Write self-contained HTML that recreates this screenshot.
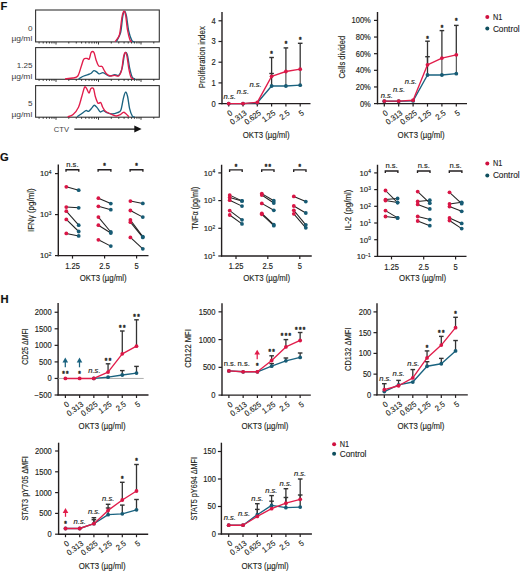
<!DOCTYPE html>
<html><head><meta charset="utf-8"><style>
html,body{margin:0;padding:0;background:#fff;}
svg{display:block;font-family:"Liberation Sans", sans-serif;}
text{stroke:#231f20;stroke-width:0.15px;paint-order:stroke;}
</style></head><body>
<svg width="520" height="571" viewBox="0 0 520 571">
<rect x="0" y="0" width="520" height="571" fill="#fff"/>
<text x="0.60" y="9.90" font-size="11.2" text-anchor="start" fill="#111" font-weight="bold" font-style="normal" >F</text>
<text x="0.00" y="160.60" font-size="11.2" text-anchor="start" fill="#111" font-weight="bold" font-style="normal" >G</text>
<text x="0.60" y="303.20" font-size="11.2" text-anchor="start" fill="#111" font-weight="bold" font-style="normal" >H</text>
<rect x="35.6" y="10.0" width="123.70000000000002" height="31.9" fill="none" stroke="#333" stroke-width="1.1"/>
<line x1="39.09" y1="41.90" x2="39.09" y2="43.50" stroke="#222" stroke-width="0.9" />
<line x1="43.21" y1="41.90" x2="43.21" y2="43.50" stroke="#222" stroke-width="0.9" />
<line x1="46.57" y1="41.90" x2="46.57" y2="43.50" stroke="#222" stroke-width="0.9" />
<line x1="49.42" y1="41.90" x2="49.42" y2="43.50" stroke="#222" stroke-width="0.9" />
<line x1="51.88" y1="41.90" x2="51.88" y2="43.50" stroke="#222" stroke-width="0.9" />
<line x1="54.06" y1="41.90" x2="54.06" y2="43.50" stroke="#222" stroke-width="0.9" />
<line x1="56.00" y1="41.90" x2="56.00" y2="44.50" stroke="#222" stroke-width="0.9" />
<line x1="68.79" y1="41.90" x2="68.79" y2="43.50" stroke="#222" stroke-width="0.9" />
<line x1="76.28" y1="41.90" x2="76.28" y2="43.50" stroke="#222" stroke-width="0.9" />
<line x1="81.59" y1="41.90" x2="81.59" y2="43.50" stroke="#222" stroke-width="0.9" />
<line x1="85.71" y1="41.90" x2="85.71" y2="43.50" stroke="#222" stroke-width="0.9" />
<line x1="89.07" y1="41.90" x2="89.07" y2="43.50" stroke="#222" stroke-width="0.9" />
<line x1="91.92" y1="41.90" x2="91.92" y2="43.50" stroke="#222" stroke-width="0.9" />
<line x1="94.38" y1="41.90" x2="94.38" y2="43.50" stroke="#222" stroke-width="0.9" />
<line x1="96.56" y1="41.90" x2="96.56" y2="43.50" stroke="#222" stroke-width="0.9" />
<line x1="98.50" y1="41.90" x2="98.50" y2="44.50" stroke="#222" stroke-width="0.9" />
<line x1="111.29" y1="41.90" x2="111.29" y2="43.50" stroke="#222" stroke-width="0.9" />
<line x1="118.78" y1="41.90" x2="118.78" y2="43.50" stroke="#222" stroke-width="0.9" />
<line x1="124.09" y1="41.90" x2="124.09" y2="43.50" stroke="#222" stroke-width="0.9" />
<line x1="128.21" y1="41.90" x2="128.21" y2="43.50" stroke="#222" stroke-width="0.9" />
<line x1="131.57" y1="41.90" x2="131.57" y2="43.50" stroke="#222" stroke-width="0.9" />
<line x1="134.42" y1="41.90" x2="134.42" y2="43.50" stroke="#222" stroke-width="0.9" />
<line x1="136.88" y1="41.90" x2="136.88" y2="43.50" stroke="#222" stroke-width="0.9" />
<line x1="139.06" y1="41.90" x2="139.06" y2="43.50" stroke="#222" stroke-width="0.9" />
<line x1="141.00" y1="41.90" x2="141.00" y2="44.50" stroke="#222" stroke-width="0.9" />
<line x1="153.79" y1="41.90" x2="153.79" y2="43.50" stroke="#222" stroke-width="0.9" />
<rect x="35.6" y="47.6" width="123.70000000000002" height="31.699999999999996" fill="none" stroke="#333" stroke-width="1.1"/>
<line x1="39.09" y1="79.30" x2="39.09" y2="80.90" stroke="#222" stroke-width="0.9" />
<line x1="43.21" y1="79.30" x2="43.21" y2="80.90" stroke="#222" stroke-width="0.9" />
<line x1="46.57" y1="79.30" x2="46.57" y2="80.90" stroke="#222" stroke-width="0.9" />
<line x1="49.42" y1="79.30" x2="49.42" y2="80.90" stroke="#222" stroke-width="0.9" />
<line x1="51.88" y1="79.30" x2="51.88" y2="80.90" stroke="#222" stroke-width="0.9" />
<line x1="54.06" y1="79.30" x2="54.06" y2="80.90" stroke="#222" stroke-width="0.9" />
<line x1="56.00" y1="79.30" x2="56.00" y2="81.90" stroke="#222" stroke-width="0.9" />
<line x1="68.79" y1="79.30" x2="68.79" y2="80.90" stroke="#222" stroke-width="0.9" />
<line x1="76.28" y1="79.30" x2="76.28" y2="80.90" stroke="#222" stroke-width="0.9" />
<line x1="81.59" y1="79.30" x2="81.59" y2="80.90" stroke="#222" stroke-width="0.9" />
<line x1="85.71" y1="79.30" x2="85.71" y2="80.90" stroke="#222" stroke-width="0.9" />
<line x1="89.07" y1="79.30" x2="89.07" y2="80.90" stroke="#222" stroke-width="0.9" />
<line x1="91.92" y1="79.30" x2="91.92" y2="80.90" stroke="#222" stroke-width="0.9" />
<line x1="94.38" y1="79.30" x2="94.38" y2="80.90" stroke="#222" stroke-width="0.9" />
<line x1="96.56" y1="79.30" x2="96.56" y2="80.90" stroke="#222" stroke-width="0.9" />
<line x1="98.50" y1="79.30" x2="98.50" y2="81.90" stroke="#222" stroke-width="0.9" />
<line x1="111.29" y1="79.30" x2="111.29" y2="80.90" stroke="#222" stroke-width="0.9" />
<line x1="118.78" y1="79.30" x2="118.78" y2="80.90" stroke="#222" stroke-width="0.9" />
<line x1="124.09" y1="79.30" x2="124.09" y2="80.90" stroke="#222" stroke-width="0.9" />
<line x1="128.21" y1="79.30" x2="128.21" y2="80.90" stroke="#222" stroke-width="0.9" />
<line x1="131.57" y1="79.30" x2="131.57" y2="80.90" stroke="#222" stroke-width="0.9" />
<line x1="134.42" y1="79.30" x2="134.42" y2="80.90" stroke="#222" stroke-width="0.9" />
<line x1="136.88" y1="79.30" x2="136.88" y2="80.90" stroke="#222" stroke-width="0.9" />
<line x1="139.06" y1="79.30" x2="139.06" y2="80.90" stroke="#222" stroke-width="0.9" />
<line x1="141.00" y1="79.30" x2="141.00" y2="81.90" stroke="#222" stroke-width="0.9" />
<line x1="153.79" y1="79.30" x2="153.79" y2="80.90" stroke="#222" stroke-width="0.9" />
<rect x="35.6" y="85.6" width="123.70000000000002" height="31.60000000000001" fill="none" stroke="#333" stroke-width="1.1"/>
<line x1="39.09" y1="117.20" x2="39.09" y2="118.80" stroke="#222" stroke-width="0.9" />
<line x1="43.21" y1="117.20" x2="43.21" y2="118.80" stroke="#222" stroke-width="0.9" />
<line x1="46.57" y1="117.20" x2="46.57" y2="118.80" stroke="#222" stroke-width="0.9" />
<line x1="49.42" y1="117.20" x2="49.42" y2="118.80" stroke="#222" stroke-width="0.9" />
<line x1="51.88" y1="117.20" x2="51.88" y2="118.80" stroke="#222" stroke-width="0.9" />
<line x1="54.06" y1="117.20" x2="54.06" y2="118.80" stroke="#222" stroke-width="0.9" />
<line x1="56.00" y1="117.20" x2="56.00" y2="119.80" stroke="#222" stroke-width="0.9" />
<line x1="68.79" y1="117.20" x2="68.79" y2="118.80" stroke="#222" stroke-width="0.9" />
<line x1="76.28" y1="117.20" x2="76.28" y2="118.80" stroke="#222" stroke-width="0.9" />
<line x1="81.59" y1="117.20" x2="81.59" y2="118.80" stroke="#222" stroke-width="0.9" />
<line x1="85.71" y1="117.20" x2="85.71" y2="118.80" stroke="#222" stroke-width="0.9" />
<line x1="89.07" y1="117.20" x2="89.07" y2="118.80" stroke="#222" stroke-width="0.9" />
<line x1="91.92" y1="117.20" x2="91.92" y2="118.80" stroke="#222" stroke-width="0.9" />
<line x1="94.38" y1="117.20" x2="94.38" y2="118.80" stroke="#222" stroke-width="0.9" />
<line x1="96.56" y1="117.20" x2="96.56" y2="118.80" stroke="#222" stroke-width="0.9" />
<line x1="98.50" y1="117.20" x2="98.50" y2="119.80" stroke="#222" stroke-width="0.9" />
<line x1="111.29" y1="117.20" x2="111.29" y2="118.80" stroke="#222" stroke-width="0.9" />
<line x1="118.78" y1="117.20" x2="118.78" y2="118.80" stroke="#222" stroke-width="0.9" />
<line x1="124.09" y1="117.20" x2="124.09" y2="118.80" stroke="#222" stroke-width="0.9" />
<line x1="128.21" y1="117.20" x2="128.21" y2="118.80" stroke="#222" stroke-width="0.9" />
<line x1="131.57" y1="117.20" x2="131.57" y2="118.80" stroke="#222" stroke-width="0.9" />
<line x1="134.42" y1="117.20" x2="134.42" y2="118.80" stroke="#222" stroke-width="0.9" />
<line x1="136.88" y1="117.20" x2="136.88" y2="118.80" stroke="#222" stroke-width="0.9" />
<line x1="139.06" y1="117.20" x2="139.06" y2="118.80" stroke="#222" stroke-width="0.9" />
<line x1="141.00" y1="117.20" x2="141.00" y2="119.80" stroke="#222" stroke-width="0.9" />
<line x1="153.79" y1="117.20" x2="153.79" y2="118.80" stroke="#222" stroke-width="0.9" />
<path d="M116.30,41.60 C117.02,40.08 119.52,36.73 120.60,32.50 C121.67,28.27 122.06,19.78 122.75,16.25 C123.44,12.72 124.12,11.30 124.75,11.30 C125.38,11.30 125.83,12.93 126.50,16.25 C127.17,19.57 127.85,27.19 128.75,31.25 C129.65,35.31 130.96,38.88 131.90,40.60 C132.84,42.33 133.98,41.43 134.40,41.60" fill="none" stroke="#1a6380" stroke-width="1.35" stroke-linejoin="round"/>
<path d="M115.00,41.60 C115.73,40.50 118.25,39.02 119.40,35.00 C120.55,30.98 121.18,21.45 121.90,17.50 C122.62,13.55 123.13,11.72 123.75,11.30 C124.37,10.88 124.97,11.88 125.60,15.00 C126.22,18.12 126.77,25.83 127.50,30.00 C128.23,34.17 129.27,38.07 130.00,40.00 C130.73,41.93 131.58,41.33 131.90,41.60" fill="none" stroke="#e11d4b" stroke-width="1.35" stroke-linejoin="round"/>
<path d="M78.50,78.90 C79.38,78.42 82.23,76.72 83.80,76.00 C85.37,75.28 86.67,75.05 87.90,74.60 C89.13,74.15 90.20,73.97 91.20,73.30 C92.20,72.63 93.00,70.83 93.90,70.60 C94.80,70.37 95.70,71.35 96.60,71.90 C97.50,72.45 98.28,73.78 99.30,73.90 C100.32,74.02 101.68,72.60 102.70,72.60 C103.72,72.60 104.28,73.33 105.40,73.90 C106.52,74.47 107.83,75.88 109.40,76.00 C110.97,76.12 113.23,74.72 114.80,74.60 C116.37,74.48 117.57,76.42 118.80,75.30 C120.03,74.18 121.30,71.15 122.20,67.90 C123.10,64.65 123.60,58.38 124.20,55.80 C124.80,53.22 125.23,52.40 125.80,52.40 C126.37,52.40 126.97,53.22 127.60,55.80 C128.23,58.38 128.82,64.32 129.60,67.90 C130.38,71.48 131.40,75.47 132.30,77.30 C133.20,79.13 134.55,78.63 135.00,78.90" fill="none" stroke="#1a6380" stroke-width="1.35" stroke-linejoin="round"/>
<path d="M65.00,78.90 C66.33,78.75 70.87,78.48 73.00,78.00 C75.13,77.52 76.43,77.92 77.80,76.00 C79.17,74.08 80.20,69.32 81.20,66.50 C82.20,63.68 82.80,60.43 83.80,59.10 C84.80,57.77 86.30,58.50 87.20,58.50 C88.10,58.50 88.53,60.12 89.20,59.10 C89.87,58.08 90.42,53.52 91.20,52.40 C91.98,51.28 93.10,51.17 93.90,52.40 C94.70,53.63 95.22,57.55 96.00,59.80 C96.78,62.05 97.60,64.78 98.60,65.90 C99.60,67.02 101.10,65.82 102.00,66.50 C102.90,67.18 103.22,68.75 104.00,70.00 C104.78,71.25 105.57,73.00 106.70,74.00 C107.83,75.00 109.45,75.78 110.80,76.00 C112.15,76.22 113.47,75.30 114.80,75.30 C116.13,75.30 117.68,76.78 118.80,76.00 C119.92,75.22 120.72,73.75 121.50,70.60 C122.28,67.45 122.87,60.13 123.50,57.10 C124.13,54.07 124.73,52.62 125.30,52.40 C125.87,52.18 126.30,53.00 126.90,55.80 C127.50,58.60 128.22,65.62 128.90,69.20 C129.58,72.78 130.22,75.68 131.00,77.30 C131.78,78.92 133.17,78.63 133.60,78.90" fill="none" stroke="#e11d4b" stroke-width="1.35" stroke-linejoin="round"/>
<path d="M77.10,116.80 C77.78,116.33 79.73,115.03 81.20,114.00 C82.67,112.97 84.67,111.05 85.90,110.60 C87.13,110.15 87.60,111.75 88.60,111.30 C89.60,110.85 90.95,108.92 91.90,107.90 C92.85,106.88 93.40,105.20 94.30,105.20 C95.20,105.20 96.30,106.78 97.30,107.90 C98.30,109.02 99.28,111.45 100.30,111.90 C101.32,112.35 102.33,110.48 103.40,110.60 C104.47,110.72 105.25,112.03 106.70,112.60 C108.15,113.17 110.30,114.00 112.10,114.00 C113.90,114.00 116.03,113.27 117.50,112.60 C118.97,111.93 119.90,112.47 120.90,110.00 C121.90,107.53 122.72,100.77 123.50,97.80 C124.28,94.83 124.92,92.42 125.60,92.20 C126.28,91.98 126.93,93.77 127.60,96.50 C128.27,99.23 128.82,105.35 129.60,108.60 C130.38,111.85 131.48,114.63 132.30,116.00 C133.12,117.37 134.13,116.67 134.50,116.80" fill="none" stroke="#1a6380" stroke-width="1.35" stroke-linejoin="round"/>
<path d="M67.70,116.80 C68.60,116.43 71.30,116.20 73.10,114.60 C74.90,113.00 77.05,110.22 78.50,107.20 C79.95,104.18 80.80,99.82 81.80,96.50 C82.80,93.18 83.72,88.65 84.50,87.30 C85.28,85.95 85.75,87.43 86.50,88.40 C87.25,89.37 88.28,93.05 89.00,93.10 C89.72,93.15 90.05,89.43 90.80,88.70 C91.55,87.97 92.75,87.40 93.50,88.70 C94.25,90.00 94.55,94.08 95.30,96.50 C96.05,98.92 97.10,102.20 98.00,103.20 C98.90,104.20 99.92,101.83 100.70,102.50 C101.48,103.17 101.92,105.73 102.70,107.20 C103.48,108.67 104.05,110.17 105.40,111.30 C106.75,112.43 109.02,113.22 110.80,114.00 C112.58,114.78 114.53,115.90 116.10,116.00 C117.67,116.10 118.97,115.22 120.20,114.60 C121.43,113.98 122.50,112.40 123.50,112.30 C124.50,112.20 125.30,113.25 126.20,114.00 C127.10,114.75 128.45,116.33 128.90,116.80" fill="none" stroke="#e11d4b" stroke-width="1.35" stroke-linejoin="round"/>
<text x="32.60" y="30.60" font-size="8.1" text-anchor="end" fill="#3a3a3a" font-weight="normal" font-style="normal" style="stroke:none">0</text>
<text x="32.30" y="41.30" font-size="7.9" text-anchor="end" fill="#3a3a3a" font-weight="normal" font-style="normal" textLength="20.9" lengthAdjust="spacingAndGlyphs" style="stroke:none">µg/ml</text>
<text x="32.60" y="68.00" font-size="8.1" text-anchor="end" fill="#3a3a3a" font-weight="normal" font-style="normal" style="stroke:none">1.25</text>
<text x="32.30" y="78.70" font-size="7.9" text-anchor="end" fill="#3a3a3a" font-weight="normal" font-style="normal" textLength="20.9" lengthAdjust="spacingAndGlyphs" style="stroke:none">µg/ml</text>
<text x="32.60" y="105.90" font-size="8.1" text-anchor="end" fill="#3a3a3a" font-weight="normal" font-style="normal" style="stroke:none">5</text>
<text x="32.30" y="116.60" font-size="7.9" text-anchor="end" fill="#3a3a3a" font-weight="normal" font-style="normal" textLength="20.9" lengthAdjust="spacingAndGlyphs" style="stroke:none">µg/ml</text>
<text x="53.80" y="132.00" font-size="7.9" text-anchor="start" fill="#444" font-weight="normal" font-style="normal" textLength="15.2" lengthAdjust="spacingAndGlyphs" style="stroke:none">CTV</text>
<line x1="74.30" y1="129.10" x2="135.50" y2="129.10" stroke="#111" stroke-width="1.1" />
<path d="M134.3,125.6 L141.6,129.1 L134.3,132.6 Z" fill="#111"/>
<line x1="222.00" y1="12.00" x2="222.00" y2="104.20" stroke="#231f20" stroke-width="1.4" />
<line x1="221.40" y1="103.60" x2="310.50" y2="103.60" stroke="#231f20" stroke-width="1.4" />
<line x1="218.50" y1="103.60" x2="222.00" y2="103.60" stroke="#231f20" stroke-width="1.2" />
<text x="215.60" y="106.50" font-size="8.2" text-anchor="end" fill="#231f20" font-weight="normal" font-style="normal" textLength="4.2" lengthAdjust="spacingAndGlyphs" >0</text>
<line x1="218.50" y1="82.90" x2="222.00" y2="82.90" stroke="#231f20" stroke-width="1.2" />
<text x="215.60" y="85.80" font-size="8.2" text-anchor="end" fill="#231f20" font-weight="normal" font-style="normal" textLength="4.2" lengthAdjust="spacingAndGlyphs" >1</text>
<line x1="218.50" y1="62.20" x2="222.00" y2="62.20" stroke="#231f20" stroke-width="1.2" />
<text x="215.60" y="65.10" font-size="8.2" text-anchor="end" fill="#231f20" font-weight="normal" font-style="normal" textLength="4.2" lengthAdjust="spacingAndGlyphs" >2</text>
<line x1="218.50" y1="41.50" x2="222.00" y2="41.50" stroke="#231f20" stroke-width="1.2" />
<text x="215.60" y="44.40" font-size="8.2" text-anchor="end" fill="#231f20" font-weight="normal" font-style="normal" textLength="4.2" lengthAdjust="spacingAndGlyphs" >3</text>
<line x1="218.50" y1="20.80" x2="222.00" y2="20.80" stroke="#231f20" stroke-width="1.2" />
<text x="215.60" y="23.70" font-size="8.2" text-anchor="end" fill="#231f20" font-weight="normal" font-style="normal" textLength="4.2" lengthAdjust="spacingAndGlyphs" >4</text>
<line x1="228.70" y1="103.60" x2="228.70" y2="106.60" stroke="#231f20" stroke-width="1.2" />
<line x1="243.00" y1="103.60" x2="243.00" y2="106.60" stroke="#231f20" stroke-width="1.2" />
<line x1="257.30" y1="103.60" x2="257.30" y2="106.60" stroke="#231f20" stroke-width="1.2" />
<line x1="271.60" y1="103.60" x2="271.60" y2="106.60" stroke="#231f20" stroke-width="1.2" />
<line x1="285.90" y1="103.60" x2="285.90" y2="106.60" stroke="#231f20" stroke-width="1.2" />
<line x1="300.20" y1="103.60" x2="300.20" y2="106.60" stroke="#231f20" stroke-width="1.2" />
<line x1="271.60" y1="86.00" x2="271.60" y2="73.50" stroke="#333333" stroke-width="1.3" />
<line x1="269.30" y1="73.50" x2="273.90" y2="73.50" stroke="#333333" stroke-width="1.4" />
<line x1="271.60" y1="76.30" x2="271.60" y2="57.50" stroke="#333333" stroke-width="1.3" />
<line x1="269.30" y1="57.50" x2="273.90" y2="57.50" stroke="#333333" stroke-width="1.4" />
<line x1="285.90" y1="71.50" x2="285.90" y2="47.90" stroke="#333333" stroke-width="1.3" />
<line x1="283.60" y1="47.90" x2="288.20" y2="47.90" stroke="#333333" stroke-width="1.4" />
<line x1="300.20" y1="69.20" x2="300.20" y2="43.30" stroke="#333333" stroke-width="1.3" />
<line x1="297.90" y1="43.30" x2="302.50" y2="43.30" stroke="#333333" stroke-width="1.4" />
<line x1="285.90" y1="86.00" x2="285.90" y2="71.50" stroke="#333333" stroke-width="1" />
<line x1="300.20" y1="85.20" x2="300.20" y2="69.20" stroke="#333333" stroke-width="1" />
<polyline points="228.70,103.60 243.00,103.60 257.30,102.80 271.60,86.00 285.90,86.00 300.20,85.20" fill="none" stroke="#1a6380" stroke-width="1.35" stroke-linejoin="round" stroke-linecap="round"/>
<circle cx="228.70" cy="103.60" r="1.9" fill="#175b74"/>
<circle cx="243.00" cy="103.60" r="1.9" fill="#175b74"/>
<circle cx="257.30" cy="102.80" r="1.9" fill="#175b74"/>
<circle cx="271.60" cy="86.00" r="1.9" fill="#175b74"/>
<circle cx="285.90" cy="86.00" r="1.9" fill="#175b74"/>
<circle cx="300.20" cy="85.20" r="1.9" fill="#175b74"/>
<polyline points="228.70,103.60 243.00,103.60 257.30,102.30 271.60,76.30 285.90,71.50 300.20,69.20" fill="none" stroke="#e11d4b" stroke-width="1.35" stroke-linejoin="round" stroke-linecap="round"/>
<circle cx="228.70" cy="103.60" r="1.9" fill="#d91646"/>
<circle cx="243.00" cy="103.60" r="1.9" fill="#d91646"/>
<circle cx="257.30" cy="102.30" r="1.9" fill="#d91646"/>
<circle cx="271.60" cy="76.30" r="1.9" fill="#d91646"/>
<circle cx="285.90" cy="71.50" r="1.9" fill="#d91646"/>
<circle cx="300.20" cy="69.20" r="1.9" fill="#d91646"/>
<text x="229.70" y="98.70" font-size="7.6" text-anchor="middle" fill="#231f20" font-weight="normal" font-style="italic" >n.s.</text>
<text x="242.90" y="94.40" font-size="7.6" text-anchor="middle" fill="#231f20" font-weight="normal" font-style="italic" >n.s.</text>
<text x="255.50" y="87.20" font-size="7.6" text-anchor="middle" fill="#231f20" font-weight="normal" font-style="italic" >n.s.</text>
<text x="271.60" y="55.96" font-size="6.4" text-anchor="middle" fill="#231f20" font-weight="bold" style="stroke-width:0.35px">*</text>
<text x="285.90" y="45.96" font-size="6.4" text-anchor="middle" fill="#231f20" font-weight="bold" style="stroke-width:0.35px">*</text>
<text x="300.20" y="42.46" font-size="6.4" text-anchor="middle" fill="#231f20" font-weight="bold" style="stroke-width:0.35px">*</text>
<text transform="translate(233.00,114.00) rotate(-37)" font-size="7.9" text-anchor="end" fill="#231f20" textLength="4.09" lengthAdjust="spacingAndGlyphs">0</text>
<text transform="translate(247.30,114.00) rotate(-37)" font-size="7.9" text-anchor="end" fill="#231f20" textLength="18.38" lengthAdjust="spacingAndGlyphs">0.313</text>
<text transform="translate(261.60,114.00) rotate(-37)" font-size="7.9" text-anchor="end" fill="#231f20" textLength="18.38" lengthAdjust="spacingAndGlyphs">0.625</text>
<text transform="translate(275.90,114.00) rotate(-37)" font-size="7.9" text-anchor="end" fill="#231f20" textLength="14.30" lengthAdjust="spacingAndGlyphs">1.25</text>
<text transform="translate(290.20,114.00) rotate(-37)" font-size="7.9" text-anchor="end" fill="#231f20" textLength="10.21" lengthAdjust="spacingAndGlyphs">2.5</text>
<text transform="translate(304.50,114.00) rotate(-37)" font-size="7.9" text-anchor="end" fill="#231f20" textLength="4.09" lengthAdjust="spacingAndGlyphs">5</text>
<text x="266.20" y="137.80" font-size="9.4" text-anchor="middle" fill="#231f20" font-weight="normal" font-style="normal" textLength="47" lengthAdjust="spacingAndGlyphs" >OKT3 (µg/ml)</text>
<text transform="translate(204.60,57.25) rotate(-90)" x="0" y="0" font-size="9.6" text-anchor="middle" fill="#231f20" textLength="62.1" lengthAdjust="spacingAndGlyphs">Proliferation index</text>
<line x1="377.50" y1="12.00" x2="377.50" y2="104.20" stroke="#231f20" stroke-width="1.4" />
<line x1="376.90" y1="103.60" x2="467.00" y2="103.60" stroke="#231f20" stroke-width="1.4" />
<line x1="374.00" y1="103.60" x2="377.50" y2="103.60" stroke="#231f20" stroke-width="1.2" />
<text x="370.80" y="106.50" font-size="8.2" text-anchor="end" fill="#231f20" font-weight="normal" font-style="normal" textLength="10.9" lengthAdjust="spacingAndGlyphs" >0%</text>
<line x1="374.00" y1="86.96" x2="377.50" y2="86.96" stroke="#231f20" stroke-width="1.2" />
<text x="370.80" y="89.86" font-size="8.2" text-anchor="end" fill="#231f20" font-weight="normal" font-style="normal" textLength="15.1" lengthAdjust="spacingAndGlyphs" >20%</text>
<line x1="374.00" y1="70.32" x2="377.50" y2="70.32" stroke="#231f20" stroke-width="1.2" />
<text x="370.80" y="73.22" font-size="8.2" text-anchor="end" fill="#231f20" font-weight="normal" font-style="normal" textLength="15.1" lengthAdjust="spacingAndGlyphs" >40%</text>
<line x1="374.00" y1="53.68" x2="377.50" y2="53.68" stroke="#231f20" stroke-width="1.2" />
<text x="370.80" y="56.58" font-size="8.2" text-anchor="end" fill="#231f20" font-weight="normal" font-style="normal" textLength="15.1" lengthAdjust="spacingAndGlyphs" >60%</text>
<line x1="374.00" y1="37.04" x2="377.50" y2="37.04" stroke="#231f20" stroke-width="1.2" />
<text x="370.80" y="39.94" font-size="8.2" text-anchor="end" fill="#231f20" font-weight="normal" font-style="normal" textLength="15.1" lengthAdjust="spacingAndGlyphs" >80%</text>
<line x1="374.00" y1="20.40" x2="377.50" y2="20.40" stroke="#231f20" stroke-width="1.2" />
<text x="370.80" y="23.30" font-size="8.2" text-anchor="end" fill="#231f20" font-weight="normal" font-style="normal" textLength="19.29" lengthAdjust="spacingAndGlyphs" >100%</text>
<line x1="384.30" y1="103.60" x2="384.30" y2="106.60" stroke="#231f20" stroke-width="1.2" />
<line x1="398.70" y1="103.60" x2="398.70" y2="106.60" stroke="#231f20" stroke-width="1.2" />
<line x1="413.10" y1="103.60" x2="413.10" y2="106.60" stroke="#231f20" stroke-width="1.2" />
<line x1="427.50" y1="103.60" x2="427.50" y2="106.60" stroke="#231f20" stroke-width="1.2" />
<line x1="441.90" y1="103.60" x2="441.90" y2="106.60" stroke="#231f20" stroke-width="1.2" />
<line x1="456.30" y1="103.60" x2="456.30" y2="106.60" stroke="#231f20" stroke-width="1.2" />
<line x1="427.50" y1="74.98" x2="427.50" y2="56.70" stroke="#333333" stroke-width="1.3" />
<line x1="425.20" y1="56.70" x2="429.80" y2="56.70" stroke="#333333" stroke-width="1.4" />
<line x1="427.50" y1="64.83" x2="427.50" y2="41.20" stroke="#333333" stroke-width="1.3" />
<line x1="425.20" y1="41.20" x2="429.80" y2="41.20" stroke="#333333" stroke-width="1.4" />
<line x1="441.90" y1="58.09" x2="441.90" y2="30.60" stroke="#333333" stroke-width="1.3" />
<line x1="439.60" y1="30.60" x2="444.20" y2="30.60" stroke="#333333" stroke-width="1.4" />
<line x1="456.30" y1="54.84" x2="456.30" y2="25.40" stroke="#333333" stroke-width="1.3" />
<line x1="454.00" y1="25.40" x2="458.60" y2="25.40" stroke="#333333" stroke-width="1.4" />
<line x1="441.90" y1="74.98" x2="441.90" y2="58.09" stroke="#333333" stroke-width="1" />
<line x1="456.30" y1="73.65" x2="456.30" y2="54.84" stroke="#333333" stroke-width="1" />
<polyline points="384.30,101.27 398.70,101.27 413.10,100.94 427.50,74.98 441.90,74.98 456.30,73.65" fill="none" stroke="#1a6380" stroke-width="1.35" stroke-linejoin="round" stroke-linecap="round"/>
<circle cx="384.30" cy="101.27" r="1.9" fill="#175b74"/>
<circle cx="398.70" cy="101.27" r="1.9" fill="#175b74"/>
<circle cx="413.10" cy="100.94" r="1.9" fill="#175b74"/>
<circle cx="427.50" cy="74.98" r="1.9" fill="#175b74"/>
<circle cx="441.90" cy="74.98" r="1.9" fill="#175b74"/>
<circle cx="456.30" cy="73.65" r="1.9" fill="#175b74"/>
<polyline points="384.30,101.10 398.70,101.10 413.10,100.27 427.50,64.83 441.90,58.09 456.30,54.84" fill="none" stroke="#e11d4b" stroke-width="1.35" stroke-linejoin="round" stroke-linecap="round"/>
<circle cx="384.30" cy="101.10" r="1.9" fill="#d91646"/>
<circle cx="398.70" cy="101.10" r="1.9" fill="#d91646"/>
<circle cx="413.10" cy="100.27" r="1.9" fill="#d91646"/>
<circle cx="427.50" cy="64.83" r="1.9" fill="#d91646"/>
<circle cx="441.90" cy="58.09" r="1.9" fill="#d91646"/>
<circle cx="456.30" cy="54.84" r="1.9" fill="#d91646"/>
<text x="386.80" y="97.60" font-size="7.6" text-anchor="middle" fill="#231f20" font-weight="normal" font-style="italic" >n.s.</text>
<text x="399.00" y="91.80" font-size="7.6" text-anchor="middle" fill="#231f20" font-weight="normal" font-style="italic" >n.s.</text>
<text x="410.80" y="84.20" font-size="7.6" text-anchor="middle" fill="#231f20" font-weight="normal" font-style="italic" >n.s.</text>
<text x="427.50" y="41.16" font-size="6.4" text-anchor="middle" fill="#231f20" font-weight="bold" style="stroke-width:0.35px">*</text>
<text x="441.90" y="29.56" font-size="6.4" text-anchor="middle" fill="#231f20" font-weight="bold" style="stroke-width:0.35px">*</text>
<text x="456.30" y="23.26" font-size="6.4" text-anchor="middle" fill="#231f20" font-weight="bold" style="stroke-width:0.35px">*</text>
<text transform="translate(388.60,114.00) rotate(-37)" font-size="7.9" text-anchor="end" fill="#231f20" textLength="4.09" lengthAdjust="spacingAndGlyphs">0</text>
<text transform="translate(403.00,114.00) rotate(-37)" font-size="7.9" text-anchor="end" fill="#231f20" textLength="18.38" lengthAdjust="spacingAndGlyphs">0.313</text>
<text transform="translate(417.40,114.00) rotate(-37)" font-size="7.9" text-anchor="end" fill="#231f20" textLength="18.38" lengthAdjust="spacingAndGlyphs">0.625</text>
<text transform="translate(431.80,114.00) rotate(-37)" font-size="7.9" text-anchor="end" fill="#231f20" textLength="14.30" lengthAdjust="spacingAndGlyphs">1.25</text>
<text transform="translate(446.20,114.00) rotate(-37)" font-size="7.9" text-anchor="end" fill="#231f20" textLength="10.21" lengthAdjust="spacingAndGlyphs">2.5</text>
<text transform="translate(460.60,114.00) rotate(-37)" font-size="7.9" text-anchor="end" fill="#231f20" textLength="4.09" lengthAdjust="spacingAndGlyphs">5</text>
<text x="421.10" y="137.80" font-size="9.4" text-anchor="middle" fill="#231f20" font-weight="normal" font-style="normal" textLength="47" lengthAdjust="spacingAndGlyphs" >OKT3 (µg/ml)</text>
<text transform="translate(344.60,57.20) rotate(-90)" x="0" y="0" font-size="9.6" text-anchor="middle" fill="#231f20" textLength="42.8" lengthAdjust="spacingAndGlyphs">Cells divided</text>
<circle cx="487.30" cy="17.00" r="2.0" fill="#d0103f"/>
<circle cx="487.30" cy="28.60" r="2.0" fill="#0f4f5e"/>
<text x="492.90" y="19.90" font-size="8.6" text-anchor="start" fill="#222" font-weight="normal" font-style="normal" textLength="9.4" lengthAdjust="spacingAndGlyphs" style="stroke-width:0.12px">N1</text>
<text x="492.90" y="31.50" font-size="8.6" text-anchor="start" fill="#222" font-weight="normal" font-style="normal" textLength="26.7" lengthAdjust="spacingAndGlyphs" style="stroke-width:0.12px">Control</text>
<circle cx="487.30" cy="163.50" r="2.0" fill="#d0103f"/>
<circle cx="487.30" cy="175.50" r="2.0" fill="#0f4f5e"/>
<text x="492.90" y="166.40" font-size="8.6" text-anchor="start" fill="#222" font-weight="normal" font-style="normal" textLength="9.4" lengthAdjust="spacingAndGlyphs" style="stroke-width:0.12px">N1</text>
<text x="492.90" y="178.40" font-size="8.6" text-anchor="start" fill="#222" font-weight="normal" font-style="normal" textLength="26.7" lengthAdjust="spacingAndGlyphs" style="stroke-width:0.12px">Control</text>
<circle cx="334.10" cy="444.20" r="2.0" fill="#d0103f"/>
<circle cx="334.10" cy="453.70" r="2.0" fill="#0f4f5e"/>
<text x="339.70" y="447.10" font-size="8.6" text-anchor="start" fill="#222" font-weight="normal" font-style="normal" textLength="9.4" lengthAdjust="spacingAndGlyphs" style="stroke-width:0.12px">N1</text>
<text x="339.70" y="456.60" font-size="8.6" text-anchor="start" fill="#222" font-weight="normal" font-style="normal" textLength="26.7" lengthAdjust="spacingAndGlyphs" style="stroke-width:0.12px">Control</text>
<line x1="58.30" y1="164.40" x2="58.30" y2="256.20" stroke="#231f20" stroke-width="1.4" />
<line x1="57.70" y1="255.60" x2="148.50" y2="255.60" stroke="#231f20" stroke-width="1.4" />
<line x1="55.00" y1="255.60" x2="58.30" y2="255.60" stroke="#231f20" stroke-width="1.2" />
<text x="51.40" y="258.40" font-size="7.8" text-anchor="end" fill="#231f20">10<tspan font-size="4.8" dy="-2.4">2</tspan></text>
<line x1="55.00" y1="214.60" x2="58.30" y2="214.60" stroke="#231f20" stroke-width="1.2" />
<text x="51.40" y="217.40" font-size="7.8" text-anchor="end" fill="#231f20">10<tspan font-size="4.8" dy="-2.4">3</tspan></text>
<line x1="55.00" y1="173.60" x2="58.30" y2="173.60" stroke="#231f20" stroke-width="1.2" />
<text x="51.40" y="176.40" font-size="7.8" text-anchor="end" fill="#231f20">10<tspan font-size="4.8" dy="-2.4">4</tspan></text>
<line x1="72.50" y1="255.60" x2="72.50" y2="258.60" stroke="#231f20" stroke-width="1.2" />
<text x="72.50" y="268.90" font-size="8.4" text-anchor="middle" fill="#231f20" font-weight="normal" font-style="normal" textLength="14.71" lengthAdjust="spacingAndGlyphs" >1.25</text>
<line x1="104.60" y1="255.60" x2="104.60" y2="258.60" stroke="#231f20" stroke-width="1.2" />
<text x="104.60" y="268.90" font-size="8.4" text-anchor="middle" fill="#231f20" font-weight="normal" font-style="normal" textLength="10.51" lengthAdjust="spacingAndGlyphs" >2.5</text>
<line x1="136.60" y1="255.60" x2="136.60" y2="258.60" stroke="#231f20" stroke-width="1.2" />
<text x="136.60" y="268.90" font-size="8.4" text-anchor="middle" fill="#231f20" font-weight="normal" font-style="normal" textLength="4.2" lengthAdjust="spacingAndGlyphs" >5</text>
<line x1="66.30" y1="186.80" x2="78.70" y2="190.20" stroke="#222" stroke-width="1.05" />
<line x1="66.30" y1="207.10" x2="78.70" y2="207.80" stroke="#222" stroke-width="1.05" />
<line x1="66.30" y1="211.20" x2="78.70" y2="225.20" stroke="#222" stroke-width="1.05" />
<line x1="66.30" y1="219.40" x2="78.70" y2="231.50" stroke="#222" stroke-width="1.05" />
<line x1="66.30" y1="233.40" x2="78.70" y2="235.90" stroke="#222" stroke-width="1.05" />
<circle cx="78.70" cy="190.20" r="1.9" fill="#175b74"/>
<circle cx="78.70" cy="207.80" r="1.9" fill="#175b74"/>
<circle cx="78.70" cy="225.20" r="1.9" fill="#175b74"/>
<circle cx="78.70" cy="231.50" r="1.9" fill="#175b74"/>
<circle cx="78.70" cy="235.90" r="1.9" fill="#175b74"/>
<circle cx="66.30" cy="186.80" r="1.9" fill="#d91646"/>
<circle cx="66.30" cy="207.10" r="1.9" fill="#d91646"/>
<circle cx="66.30" cy="211.20" r="1.9" fill="#d91646"/>
<circle cx="66.30" cy="219.40" r="1.9" fill="#d91646"/>
<circle cx="66.30" cy="233.40" r="1.9" fill="#d91646"/>
<line x1="98.40" y1="198.20" x2="110.80" y2="203.60" stroke="#222" stroke-width="1.05" />
<line x1="98.40" y1="206.30" x2="110.80" y2="209.70" stroke="#222" stroke-width="1.05" />
<line x1="98.40" y1="217.10" x2="110.80" y2="232.00" stroke="#222" stroke-width="1.05" />
<line x1="98.40" y1="225.20" x2="110.80" y2="233.00" stroke="#222" stroke-width="1.05" />
<line x1="98.40" y1="239.80" x2="110.80" y2="246.10" stroke="#222" stroke-width="1.05" />
<circle cx="110.80" cy="203.60" r="1.9" fill="#175b74"/>
<circle cx="110.80" cy="209.70" r="1.9" fill="#175b74"/>
<circle cx="110.80" cy="232.00" r="1.9" fill="#175b74"/>
<circle cx="110.80" cy="233.00" r="1.9" fill="#175b74"/>
<circle cx="110.80" cy="246.10" r="1.9" fill="#175b74"/>
<circle cx="98.40" cy="198.20" r="1.9" fill="#d91646"/>
<circle cx="98.40" cy="206.30" r="1.9" fill="#d91646"/>
<circle cx="98.40" cy="217.10" r="1.9" fill="#d91646"/>
<circle cx="98.40" cy="225.20" r="1.9" fill="#d91646"/>
<circle cx="98.40" cy="239.80" r="1.9" fill="#d91646"/>
<line x1="130.40" y1="201.10" x2="142.80" y2="203.40" stroke="#222" stroke-width="1.05" />
<line x1="130.40" y1="210.50" x2="142.80" y2="217.10" stroke="#222" stroke-width="1.05" />
<line x1="130.40" y1="220.00" x2="142.80" y2="236.60" stroke="#222" stroke-width="1.05" />
<line x1="130.40" y1="222.20" x2="142.80" y2="237.40" stroke="#222" stroke-width="1.05" />
<line x1="130.40" y1="237.40" x2="142.80" y2="248.80" stroke="#222" stroke-width="1.05" />
<circle cx="142.80" cy="203.40" r="1.9" fill="#175b74"/>
<circle cx="142.80" cy="217.10" r="1.9" fill="#175b74"/>
<circle cx="142.80" cy="236.60" r="1.9" fill="#175b74"/>
<circle cx="142.80" cy="237.40" r="1.9" fill="#175b74"/>
<circle cx="142.80" cy="248.80" r="1.9" fill="#175b74"/>
<circle cx="130.40" cy="201.10" r="1.9" fill="#d91646"/>
<circle cx="130.40" cy="210.50" r="1.9" fill="#d91646"/>
<circle cx="130.40" cy="220.00" r="1.9" fill="#d91646"/>
<circle cx="130.40" cy="222.20" r="1.9" fill="#d91646"/>
<circle cx="130.40" cy="237.40" r="1.9" fill="#d91646"/>
<path d="M66.00,171.70 L66.00,169.70 L78.80,169.70 L78.80,171.70" fill="none" stroke="#231f20" stroke-width="1.35"/>
<text x="72.40" y="166.60" font-size="7.6" text-anchor="middle" fill="#231f20" font-weight="normal" font-style="normal" >n.s.</text>
<path d="M98.10,171.70 L98.10,169.70 L110.90,169.70 L110.90,171.70" fill="none" stroke="#231f20" stroke-width="1.35"/>
<text x="104.50" y="168.36" font-size="6.4" text-anchor="middle" fill="#231f20" font-weight="bold" style="stroke-width:0.35px">*</text>
<path d="M130.10,171.70 L130.10,169.70 L142.90,169.70 L142.90,171.70" fill="none" stroke="#231f20" stroke-width="1.35"/>
<text x="136.50" y="168.36" font-size="6.4" text-anchor="middle" fill="#231f20" font-weight="bold" style="stroke-width:0.35px">*</text>
<text x="103.20" y="281.00" font-size="9.4" text-anchor="middle" fill="#231f20" font-weight="normal" font-style="normal" textLength="47" lengthAdjust="spacingAndGlyphs" >OKT3 (µg/ml)</text>
<text transform="translate(33.90,210.20) rotate(-90)" x="0" y="0" font-size="9.6" text-anchor="middle" fill="#231f20" textLength="43.7" lengthAdjust="spacingAndGlyphs">IFNγ (pg/ml)</text>
<line x1="221.60" y1="164.75" x2="221.60" y2="256.60" stroke="#231f20" stroke-width="1.4" />
<line x1="221.00" y1="256.00" x2="311.75" y2="256.00" stroke="#231f20" stroke-width="1.4" />
<line x1="218.30" y1="256.00" x2="221.60" y2="256.00" stroke="#231f20" stroke-width="1.2" />
<text x="215.10" y="258.80" font-size="7.8" text-anchor="end" fill="#231f20">10<tspan font-size="4.8" dy="-2.4">1</tspan></text>
<line x1="218.30" y1="228.30" x2="221.60" y2="228.30" stroke="#231f20" stroke-width="1.2" />
<text x="215.10" y="231.10" font-size="7.8" text-anchor="end" fill="#231f20">10<tspan font-size="4.8" dy="-2.4">2</tspan></text>
<line x1="218.30" y1="200.60" x2="221.60" y2="200.60" stroke="#231f20" stroke-width="1.2" />
<text x="215.10" y="203.40" font-size="7.8" text-anchor="end" fill="#231f20">10<tspan font-size="4.8" dy="-2.4">3</tspan></text>
<line x1="218.30" y1="172.90" x2="221.60" y2="172.90" stroke="#231f20" stroke-width="1.2" />
<text x="215.10" y="175.70" font-size="7.8" text-anchor="end" fill="#231f20">10<tspan font-size="4.8" dy="-2.4">4</tspan></text>
<line x1="236.00" y1="256.00" x2="236.00" y2="259.00" stroke="#231f20" stroke-width="1.2" />
<text x="236.00" y="269.30" font-size="8.4" text-anchor="middle" fill="#231f20" font-weight="normal" font-style="normal" textLength="14.71" lengthAdjust="spacingAndGlyphs" >1.25</text>
<line x1="267.80" y1="256.00" x2="267.80" y2="259.00" stroke="#231f20" stroke-width="1.2" />
<text x="267.80" y="269.30" font-size="8.4" text-anchor="middle" fill="#231f20" font-weight="normal" font-style="normal" textLength="10.51" lengthAdjust="spacingAndGlyphs" >2.5</text>
<line x1="299.80" y1="256.00" x2="299.80" y2="259.00" stroke="#231f20" stroke-width="1.2" />
<text x="299.80" y="269.30" font-size="8.4" text-anchor="middle" fill="#231f20" font-weight="normal" font-style="normal" textLength="4.2" lengthAdjust="spacingAndGlyphs" >5</text>
<line x1="229.70" y1="195.10" x2="242.00" y2="200.90" stroke="#222" stroke-width="1.05" />
<line x1="229.70" y1="197.50" x2="242.00" y2="200.90" stroke="#222" stroke-width="1.05" />
<line x1="229.70" y1="200.20" x2="242.00" y2="206.10" stroke="#222" stroke-width="1.05" />
<line x1="229.70" y1="210.60" x2="242.00" y2="219.80" stroke="#222" stroke-width="1.05" />
<line x1="229.70" y1="215.00" x2="242.00" y2="223.90" stroke="#222" stroke-width="1.05" />
<circle cx="242.00" cy="200.90" r="1.9" fill="#175b74"/>
<circle cx="242.00" cy="200.90" r="1.9" fill="#175b74"/>
<circle cx="242.00" cy="206.10" r="1.9" fill="#175b74"/>
<circle cx="242.00" cy="219.80" r="1.9" fill="#175b74"/>
<circle cx="242.00" cy="223.90" r="1.9" fill="#175b74"/>
<circle cx="229.70" cy="195.10" r="1.9" fill="#d91646"/>
<circle cx="229.70" cy="197.50" r="1.9" fill="#d91646"/>
<circle cx="229.70" cy="200.20" r="1.9" fill="#d91646"/>
<circle cx="229.70" cy="210.60" r="1.9" fill="#d91646"/>
<circle cx="229.70" cy="215.00" r="1.9" fill="#d91646"/>
<line x1="261.80" y1="193.60" x2="273.80" y2="200.70" stroke="#222" stroke-width="1.05" />
<line x1="261.80" y1="195.00" x2="273.80" y2="203.00" stroke="#222" stroke-width="1.05" />
<line x1="261.80" y1="203.40" x2="273.80" y2="210.30" stroke="#222" stroke-width="1.05" />
<line x1="261.80" y1="213.30" x2="273.80" y2="224.70" stroke="#222" stroke-width="1.05" />
<line x1="261.80" y1="214.30" x2="273.80" y2="225.70" stroke="#222" stroke-width="1.05" />
<circle cx="273.80" cy="200.70" r="1.9" fill="#175b74"/>
<circle cx="273.80" cy="203.00" r="1.9" fill="#175b74"/>
<circle cx="273.80" cy="210.30" r="1.9" fill="#175b74"/>
<circle cx="273.80" cy="224.70" r="1.9" fill="#175b74"/>
<circle cx="273.80" cy="225.70" r="1.9" fill="#175b74"/>
<circle cx="261.80" cy="193.60" r="1.9" fill="#d91646"/>
<circle cx="261.80" cy="195.00" r="1.9" fill="#d91646"/>
<circle cx="261.80" cy="203.40" r="1.9" fill="#d91646"/>
<circle cx="261.80" cy="213.30" r="1.9" fill="#d91646"/>
<circle cx="261.80" cy="214.30" r="1.9" fill="#d91646"/>
<line x1="293.80" y1="196.40" x2="305.80" y2="201.60" stroke="#222" stroke-width="1.05" />
<line x1="293.80" y1="206.00" x2="305.80" y2="213.00" stroke="#222" stroke-width="1.05" />
<line x1="293.80" y1="210.30" x2="305.80" y2="224.80" stroke="#222" stroke-width="1.05" />
<line x1="293.80" y1="213.80" x2="305.80" y2="227.80" stroke="#222" stroke-width="1.05" />
<circle cx="305.80" cy="201.60" r="1.9" fill="#175b74"/>
<circle cx="305.80" cy="213.00" r="1.9" fill="#175b74"/>
<circle cx="305.80" cy="224.80" r="1.9" fill="#175b74"/>
<circle cx="305.80" cy="227.80" r="1.9" fill="#175b74"/>
<circle cx="293.80" cy="196.40" r="1.9" fill="#d91646"/>
<circle cx="293.80" cy="206.00" r="1.9" fill="#d91646"/>
<circle cx="293.80" cy="210.30" r="1.9" fill="#d91646"/>
<circle cx="293.80" cy="213.80" r="1.9" fill="#d91646"/>
<path d="M229.60,171.90 L229.60,169.90 L242.20,169.90 L242.20,171.90" fill="none" stroke="#231f20" stroke-width="1.35"/>
<text x="235.90" y="168.56" font-size="6.4" text-anchor="middle" fill="#231f20" font-weight="bold" style="stroke-width:0.35px">*</text>
<path d="M261.70,171.90 L261.70,169.90 L274.00,169.90 L274.00,171.90" fill="none" stroke="#231f20" stroke-width="1.35"/>
<text x="265.90" y="168.56" font-size="6.4" text-anchor="middle" fill="#231f20" font-weight="bold" style="stroke-width:0.35px">*</text>
<text x="269.80" y="168.56" font-size="6.4" text-anchor="middle" fill="#231f20" font-weight="bold" style="stroke-width:0.35px">*</text>
<path d="M293.70,171.90 L293.70,169.90 L306.00,169.90 L306.00,171.90" fill="none" stroke="#231f20" stroke-width="1.35"/>
<text x="299.85" y="168.56" font-size="6.4" text-anchor="middle" fill="#231f20" font-weight="bold" style="stroke-width:0.35px">*</text>
<text x="266.70" y="280.80" font-size="9.4" text-anchor="middle" fill="#231f20" font-weight="normal" font-style="normal" textLength="47" lengthAdjust="spacingAndGlyphs" >OKT3 (µg/ml)</text>
<text transform="translate(198.00,208.30) rotate(-90)" x="0" y="0" font-size="9.6" text-anchor="middle" fill="#231f20" textLength="42.7" lengthAdjust="spacingAndGlyphs">TNFα (pg/ml)</text>
<line x1="377.50" y1="164.75" x2="377.50" y2="257.00" stroke="#231f20" stroke-width="1.4" />
<line x1="376.90" y1="256.40" x2="466.50" y2="256.40" stroke="#231f20" stroke-width="1.4" />
<line x1="374.20" y1="256.40" x2="377.50" y2="256.40" stroke="#231f20" stroke-width="1.2" />
<text x="370.80" y="259.20" font-size="7.8" text-anchor="end" fill="#231f20">10<tspan font-size="4.8" dy="-2.4">−1</tspan></text>
<line x1="374.20" y1="239.70" x2="377.50" y2="239.70" stroke="#231f20" stroke-width="1.2" />
<text x="370.80" y="242.50" font-size="7.8" text-anchor="end" fill="#231f20">10<tspan font-size="4.8" dy="-2.4">0</tspan></text>
<line x1="374.20" y1="223.00" x2="377.50" y2="223.00" stroke="#231f20" stroke-width="1.2" />
<text x="370.80" y="225.80" font-size="7.8" text-anchor="end" fill="#231f20">10<tspan font-size="4.8" dy="-2.4">1</tspan></text>
<line x1="374.20" y1="206.30" x2="377.50" y2="206.30" stroke="#231f20" stroke-width="1.2" />
<text x="370.80" y="209.10" font-size="7.8" text-anchor="end" fill="#231f20">10<tspan font-size="4.8" dy="-2.4">2</tspan></text>
<line x1="374.20" y1="189.60" x2="377.50" y2="189.60" stroke="#231f20" stroke-width="1.2" />
<text x="370.80" y="192.40" font-size="7.8" text-anchor="end" fill="#231f20">10<tspan font-size="4.8" dy="-2.4">3</tspan></text>
<line x1="374.20" y1="172.90" x2="377.50" y2="172.90" stroke="#231f20" stroke-width="1.2" />
<text x="370.80" y="175.70" font-size="7.8" text-anchor="end" fill="#231f20">10<tspan font-size="4.8" dy="-2.4">4</tspan></text>
<line x1="391.50" y1="256.40" x2="391.50" y2="259.40" stroke="#231f20" stroke-width="1.2" />
<text x="391.50" y="269.70" font-size="8.4" text-anchor="middle" fill="#231f20" font-weight="normal" font-style="normal" textLength="14.71" lengthAdjust="spacingAndGlyphs" >1.25</text>
<line x1="423.70" y1="256.40" x2="423.70" y2="259.40" stroke="#231f20" stroke-width="1.2" />
<text x="423.70" y="269.70" font-size="8.4" text-anchor="middle" fill="#231f20" font-weight="normal" font-style="normal" textLength="10.51" lengthAdjust="spacingAndGlyphs" >2.5</text>
<line x1="455.60" y1="256.40" x2="455.60" y2="259.40" stroke="#231f20" stroke-width="1.2" />
<text x="455.60" y="269.70" font-size="8.4" text-anchor="middle" fill="#231f20" font-weight="normal" font-style="normal" textLength="4.2" lengthAdjust="spacingAndGlyphs" >5</text>
<line x1="385.50" y1="190.50" x2="397.60" y2="202.60" stroke="#222" stroke-width="1.05" />
<line x1="385.50" y1="199.60" x2="397.60" y2="198.50" stroke="#222" stroke-width="1.05" />
<line x1="385.50" y1="200.60" x2="397.60" y2="202.60" stroke="#222" stroke-width="1.05" />
<line x1="385.50" y1="210.60" x2="397.60" y2="217.90" stroke="#222" stroke-width="1.05" />
<line x1="385.50" y1="216.50" x2="397.60" y2="217.90" stroke="#222" stroke-width="1.05" />
<circle cx="397.60" cy="202.60" r="1.9" fill="#175b74"/>
<circle cx="397.60" cy="198.50" r="1.9" fill="#175b74"/>
<circle cx="397.60" cy="202.60" r="1.9" fill="#175b74"/>
<circle cx="397.60" cy="217.90" r="1.9" fill="#175b74"/>
<circle cx="397.60" cy="217.90" r="1.9" fill="#175b74"/>
<circle cx="385.50" cy="190.50" r="1.9" fill="#d91646"/>
<circle cx="385.50" cy="199.60" r="1.9" fill="#d91646"/>
<circle cx="385.50" cy="200.60" r="1.9" fill="#d91646"/>
<circle cx="385.50" cy="210.60" r="1.9" fill="#d91646"/>
<circle cx="385.50" cy="216.50" r="1.9" fill="#d91646"/>
<line x1="417.70" y1="191.60" x2="429.80" y2="203.20" stroke="#222" stroke-width="1.05" />
<line x1="417.70" y1="201.40" x2="429.80" y2="200.20" stroke="#222" stroke-width="1.05" />
<line x1="417.70" y1="204.40" x2="429.80" y2="208.90" stroke="#222" stroke-width="1.05" />
<line x1="417.70" y1="216.50" x2="429.80" y2="219.60" stroke="#222" stroke-width="1.05" />
<line x1="417.70" y1="221.00" x2="429.80" y2="225.70" stroke="#222" stroke-width="1.05" />
<circle cx="429.80" cy="203.20" r="1.9" fill="#175b74"/>
<circle cx="429.80" cy="200.20" r="1.9" fill="#175b74"/>
<circle cx="429.80" cy="208.90" r="1.9" fill="#175b74"/>
<circle cx="429.80" cy="219.60" r="1.9" fill="#175b74"/>
<circle cx="429.80" cy="225.70" r="1.9" fill="#175b74"/>
<circle cx="417.70" cy="191.60" r="1.9" fill="#d91646"/>
<circle cx="417.70" cy="201.40" r="1.9" fill="#d91646"/>
<circle cx="417.70" cy="204.40" r="1.9" fill="#d91646"/>
<circle cx="417.70" cy="216.50" r="1.9" fill="#d91646"/>
<circle cx="417.70" cy="221.00" r="1.9" fill="#d91646"/>
<line x1="449.50" y1="192.30" x2="461.70" y2="203.70" stroke="#222" stroke-width="1.05" />
<line x1="449.50" y1="204.00" x2="461.70" y2="202.30" stroke="#222" stroke-width="1.05" />
<line x1="449.50" y1="206.60" x2="461.70" y2="211.30" stroke="#222" stroke-width="1.05" />
<line x1="449.50" y1="217.90" x2="461.70" y2="223.40" stroke="#222" stroke-width="1.05" />
<line x1="449.50" y1="220.50" x2="461.70" y2="228.60" stroke="#222" stroke-width="1.05" />
<circle cx="461.70" cy="203.70" r="1.9" fill="#175b74"/>
<circle cx="461.70" cy="202.30" r="1.9" fill="#175b74"/>
<circle cx="461.70" cy="211.30" r="1.9" fill="#175b74"/>
<circle cx="461.70" cy="223.40" r="1.9" fill="#175b74"/>
<circle cx="461.70" cy="228.60" r="1.9" fill="#175b74"/>
<circle cx="449.50" cy="192.30" r="1.9" fill="#d91646"/>
<circle cx="449.50" cy="204.00" r="1.9" fill="#d91646"/>
<circle cx="449.50" cy="206.60" r="1.9" fill="#d91646"/>
<circle cx="449.50" cy="217.90" r="1.9" fill="#d91646"/>
<circle cx="449.50" cy="220.50" r="1.9" fill="#d91646"/>
<path d="M385.30,173.00 L385.30,171.00 L397.90,171.00 L397.90,173.00" fill="none" stroke="#231f20" stroke-width="1.35"/>
<text x="391.60" y="167.90" font-size="7.6" text-anchor="middle" fill="#231f20" font-weight="normal" font-style="normal" >n.s.</text>
<path d="M417.50,173.00 L417.50,171.00 L430.00,171.00 L430.00,173.00" fill="none" stroke="#231f20" stroke-width="1.35"/>
<text x="423.75" y="167.90" font-size="7.6" text-anchor="middle" fill="#231f20" font-weight="normal" font-style="normal" >n.s.</text>
<path d="M449.30,173.00 L449.30,171.00 L461.90,171.00 L461.90,173.00" fill="none" stroke="#231f20" stroke-width="1.35"/>
<text x="455.60" y="167.90" font-size="7.6" text-anchor="middle" fill="#231f20" font-weight="normal" font-style="normal" >n.s.</text>
<text x="422.60" y="281.20" font-size="9.4" text-anchor="middle" fill="#231f20" font-weight="normal" font-style="normal" textLength="47" lengthAdjust="spacingAndGlyphs" >OKT3 (µg/ml)</text>
<text transform="translate(350.60,210.00) rotate(-90)" x="0" y="0" font-size="9.6" text-anchor="middle" fill="#231f20" textLength="41.0" lengthAdjust="spacingAndGlyphs">IL-2 (pg/ml)</text>
<line x1="58.10" y1="303.00" x2="58.10" y2="395.60" stroke="#231f20" stroke-width="1.4" />
<line x1="57.50" y1="395.00" x2="148.50" y2="395.00" stroke="#231f20" stroke-width="1.4" />
<line x1="54.60" y1="395.00" x2="58.10" y2="395.00" stroke="#231f20" stroke-width="1.2" />
<text x="51.60" y="397.90" font-size="8.2" text-anchor="end" fill="#231f20" font-weight="normal" font-style="normal" textLength="16.99" lengthAdjust="spacingAndGlyphs" >−500</text>
<line x1="54.60" y1="378.45" x2="58.10" y2="378.45" stroke="#231f20" stroke-width="1.2" />
<text x="51.60" y="381.35" font-size="8.2" text-anchor="end" fill="#231f20" font-weight="normal" font-style="normal" textLength="4.2" lengthAdjust="spacingAndGlyphs" >0</text>
<line x1="54.60" y1="361.90" x2="58.10" y2="361.90" stroke="#231f20" stroke-width="1.2" />
<text x="51.60" y="364.80" font-size="8.2" text-anchor="end" fill="#231f20" font-weight="normal" font-style="normal" textLength="12.59" lengthAdjust="spacingAndGlyphs" >500</text>
<line x1="54.60" y1="345.35" x2="58.10" y2="345.35" stroke="#231f20" stroke-width="1.2" />
<text x="51.60" y="348.25" font-size="8.2" text-anchor="end" fill="#231f20" font-weight="normal" font-style="normal" textLength="16.78" lengthAdjust="spacingAndGlyphs" >1000</text>
<line x1="54.60" y1="328.80" x2="58.10" y2="328.80" stroke="#231f20" stroke-width="1.2" />
<text x="51.60" y="331.70" font-size="8.2" text-anchor="end" fill="#231f20" font-weight="normal" font-style="normal" textLength="16.78" lengthAdjust="spacingAndGlyphs" >1500</text>
<line x1="54.60" y1="312.25" x2="58.10" y2="312.25" stroke="#231f20" stroke-width="1.2" />
<text x="51.60" y="315.15" font-size="8.2" text-anchor="end" fill="#231f20" font-weight="normal" font-style="normal" textLength="16.78" lengthAdjust="spacingAndGlyphs" >2000</text>
<line x1="65.40" y1="395.00" x2="65.40" y2="398.00" stroke="#231f20" stroke-width="1.2" />
<line x1="79.62" y1="395.00" x2="79.62" y2="398.00" stroke="#231f20" stroke-width="1.2" />
<line x1="93.84" y1="395.00" x2="93.84" y2="398.00" stroke="#231f20" stroke-width="1.2" />
<line x1="108.06" y1="395.00" x2="108.06" y2="398.00" stroke="#231f20" stroke-width="1.2" />
<line x1="122.28" y1="395.00" x2="122.28" y2="398.00" stroke="#231f20" stroke-width="1.2" />
<line x1="136.50" y1="395.00" x2="136.50" y2="398.00" stroke="#231f20" stroke-width="1.2" />
<line x1="58.10" y1="378.45" x2="143.70" y2="378.45" stroke="#9a9a9a" stroke-width="0.8" />
<line x1="108.06" y1="372.09" x2="108.06" y2="363.80" stroke="#333333" stroke-width="1.3" />
<line x1="105.76" y1="363.80" x2="110.36" y2="363.80" stroke="#333333" stroke-width="1.4" />
<line x1="122.28" y1="353.79" x2="122.28" y2="331.00" stroke="#333333" stroke-width="1.3" />
<line x1="119.98" y1="331.00" x2="124.58" y2="331.00" stroke="#333333" stroke-width="1.4" />
<line x1="136.50" y1="346.18" x2="136.50" y2="319.80" stroke="#333333" stroke-width="1.3" />
<line x1="134.20" y1="319.80" x2="138.80" y2="319.80" stroke="#333333" stroke-width="1.4" />
<line x1="122.28" y1="375.01" x2="122.28" y2="370.60" stroke="#333333" stroke-width="1.3" />
<line x1="119.98" y1="370.60" x2="124.58" y2="370.60" stroke="#333333" stroke-width="1.4" />
<line x1="136.50" y1="373.09" x2="136.50" y2="366.40" stroke="#333333" stroke-width="1.3" />
<line x1="134.20" y1="366.40" x2="138.80" y2="366.40" stroke="#333333" stroke-width="1.4" />
<polyline points="93.84,378.45 108.06,377.13 122.28,375.01 136.50,373.09" fill="none" stroke="#1a6380" stroke-width="1.35" stroke-linejoin="round" stroke-linecap="round"/>
<circle cx="93.84" cy="378.45" r="1.9" fill="#175b74"/>
<circle cx="108.06" cy="377.13" r="1.9" fill="#175b74"/>
<circle cx="122.28" cy="375.01" r="1.9" fill="#175b74"/>
<circle cx="136.50" cy="373.09" r="1.9" fill="#175b74"/>
<polyline points="65.40,378.45 79.62,378.45 93.84,378.45 108.06,372.09 122.28,353.79 136.50,346.18" fill="none" stroke="#e11d4b" stroke-width="1.35" stroke-linejoin="round" stroke-linecap="round"/>
<circle cx="65.40" cy="378.45" r="1.9" fill="#d91646"/>
<circle cx="79.62" cy="378.45" r="1.9" fill="#d91646"/>
<circle cx="93.84" cy="378.45" r="1.9" fill="#d91646"/>
<circle cx="108.06" cy="372.09" r="1.9" fill="#d91646"/>
<circle cx="122.28" cy="353.79" r="1.9" fill="#d91646"/>
<circle cx="136.50" cy="346.18" r="1.9" fill="#d91646"/>
<line x1="65.30" y1="360.60" x2="65.30" y2="367.30" stroke="#1a6380" stroke-width="1.25" />
<path d="M62.50,362.50 L65.30,357.60 L68.10,362.50 Z" fill="#1a6380"/>
<line x1="79.50" y1="360.60" x2="79.50" y2="367.30" stroke="#1a6380" stroke-width="1.25" />
<path d="M76.70,362.50 L79.50,357.60 L82.30,362.50 Z" fill="#1a6380"/>
<text x="63.45" y="376.16" font-size="6.4" text-anchor="middle" fill="#231f20" font-weight="bold" style="stroke-width:0.35px">*</text>
<text x="67.35" y="376.16" font-size="6.4" text-anchor="middle" fill="#231f20" font-weight="bold" style="stroke-width:0.35px">*</text>
<text x="79.62" y="376.16" font-size="6.4" text-anchor="middle" fill="#231f20" font-weight="bold" style="stroke-width:0.35px">*</text>
<text x="94.40" y="372.80" font-size="7.6" text-anchor="middle" fill="#231f20" font-weight="normal" font-style="italic" >n.s.</text>
<text x="106.11" y="363.26" font-size="6.4" text-anchor="middle" fill="#231f20" font-weight="bold" style="stroke-width:0.35px">*</text>
<text x="110.01" y="363.26" font-size="6.4" text-anchor="middle" fill="#231f20" font-weight="bold" style="stroke-width:0.35px">*</text>
<text x="120.33" y="330.16" font-size="6.4" text-anchor="middle" fill="#231f20" font-weight="bold" style="stroke-width:0.35px">*</text>
<text x="124.23" y="330.16" font-size="6.4" text-anchor="middle" fill="#231f20" font-weight="bold" style="stroke-width:0.35px">*</text>
<text x="134.55" y="319.06" font-size="6.4" text-anchor="middle" fill="#231f20" font-weight="bold" style="stroke-width:0.35px">*</text>
<text x="138.45" y="319.06" font-size="6.4" text-anchor="middle" fill="#231f20" font-weight="bold" style="stroke-width:0.35px">*</text>
<text transform="translate(69.70,405.40) rotate(-37)" font-size="7.9" text-anchor="end" fill="#231f20" textLength="4.09" lengthAdjust="spacingAndGlyphs">0</text>
<text transform="translate(83.92,405.40) rotate(-37)" font-size="7.9" text-anchor="end" fill="#231f20" textLength="18.38" lengthAdjust="spacingAndGlyphs">0.313</text>
<text transform="translate(98.14,405.40) rotate(-37)" font-size="7.9" text-anchor="end" fill="#231f20" textLength="18.38" lengthAdjust="spacingAndGlyphs">0.625</text>
<text transform="translate(112.36,405.40) rotate(-37)" font-size="7.9" text-anchor="end" fill="#231f20" textLength="14.30" lengthAdjust="spacingAndGlyphs">1.25</text>
<text transform="translate(126.58,405.40) rotate(-37)" font-size="7.9" text-anchor="end" fill="#231f20" textLength="10.21" lengthAdjust="spacingAndGlyphs">2.5</text>
<text transform="translate(140.80,405.40) rotate(-37)" font-size="7.9" text-anchor="end" fill="#231f20" textLength="4.09" lengthAdjust="spacingAndGlyphs">5</text>
<text x="102.10" y="429.20" font-size="9.4" text-anchor="middle" fill="#231f20" font-weight="normal" font-style="normal" textLength="47" lengthAdjust="spacingAndGlyphs" >OKT3 (µg/ml)</text>
<text transform="translate(28.30,346.50) rotate(-90)" x="0" y="0" font-size="9.6" text-anchor="middle" fill="#231f20" textLength="36.3" lengthAdjust="spacingAndGlyphs">CD25 ΔMFI</text>
<line x1="222.00" y1="303.20" x2="222.00" y2="395.70" stroke="#231f20" stroke-width="1.4" />
<line x1="221.40" y1="395.10" x2="310.80" y2="395.10" stroke="#231f20" stroke-width="1.4" />
<line x1="218.50" y1="395.10" x2="222.00" y2="395.10" stroke="#231f20" stroke-width="1.2" />
<text x="215.50" y="398.00" font-size="8.2" text-anchor="end" fill="#231f20" font-weight="normal" font-style="normal" textLength="4.2" lengthAdjust="spacingAndGlyphs" >0</text>
<line x1="218.50" y1="367.35" x2="222.00" y2="367.35" stroke="#231f20" stroke-width="1.2" />
<text x="215.50" y="370.25" font-size="8.2" text-anchor="end" fill="#231f20" font-weight="normal" font-style="normal" textLength="12.59" lengthAdjust="spacingAndGlyphs" >500</text>
<line x1="218.50" y1="339.60" x2="222.00" y2="339.60" stroke="#231f20" stroke-width="1.2" />
<text x="215.50" y="342.50" font-size="8.2" text-anchor="end" fill="#231f20" font-weight="normal" font-style="normal" textLength="16.78" lengthAdjust="spacingAndGlyphs" >1000</text>
<line x1="218.50" y1="311.85" x2="222.00" y2="311.85" stroke="#231f20" stroke-width="1.2" />
<text x="215.50" y="314.75" font-size="8.2" text-anchor="end" fill="#231f20" font-weight="normal" font-style="normal" textLength="16.78" lengthAdjust="spacingAndGlyphs" >1500</text>
<line x1="228.90" y1="395.10" x2="228.90" y2="398.10" stroke="#231f20" stroke-width="1.2" />
<line x1="243.15" y1="395.10" x2="243.15" y2="398.10" stroke="#231f20" stroke-width="1.2" />
<line x1="257.40" y1="395.10" x2="257.40" y2="398.10" stroke="#231f20" stroke-width="1.2" />
<line x1="271.65" y1="395.10" x2="271.65" y2="398.10" stroke="#231f20" stroke-width="1.2" />
<line x1="285.90" y1="395.10" x2="285.90" y2="398.10" stroke="#231f20" stroke-width="1.2" />
<line x1="300.15" y1="395.10" x2="300.15" y2="398.10" stroke="#231f20" stroke-width="1.2" />
<line x1="271.65" y1="360.52" x2="271.65" y2="355.80" stroke="#333333" stroke-width="1.3" />
<line x1="269.35" y1="355.80" x2="273.95" y2="355.80" stroke="#333333" stroke-width="1.4" />
<line x1="285.90" y1="346.93" x2="285.90" y2="339.60" stroke="#333333" stroke-width="1.3" />
<line x1="283.60" y1="339.60" x2="288.20" y2="339.60" stroke="#333333" stroke-width="1.4" />
<line x1="300.15" y1="340.49" x2="300.15" y2="332.50" stroke="#333333" stroke-width="1.3" />
<line x1="297.85" y1="332.50" x2="302.45" y2="332.50" stroke="#333333" stroke-width="1.4" />
<line x1="271.65" y1="366.18" x2="271.65" y2="363.60" stroke="#333333" stroke-width="1.3" />
<line x1="269.35" y1="363.60" x2="273.95" y2="363.60" stroke="#333333" stroke-width="1.4" />
<line x1="285.90" y1="360.80" x2="285.90" y2="358.00" stroke="#333333" stroke-width="1.3" />
<line x1="283.60" y1="358.00" x2="288.20" y2="358.00" stroke="#333333" stroke-width="1.4" />
<line x1="300.15" y1="357.42" x2="300.15" y2="353.00" stroke="#333333" stroke-width="1.3" />
<line x1="297.85" y1="353.00" x2="302.45" y2="353.00" stroke="#333333" stroke-width="1.4" />
<polyline points="228.90,370.90 243.15,371.79 257.40,371.79 271.65,366.18 285.90,360.80 300.15,357.42" fill="none" stroke="#1a6380" stroke-width="1.35" stroke-linejoin="round" stroke-linecap="round"/>
<circle cx="228.90" cy="370.90" r="1.9" fill="#175b74"/>
<circle cx="243.15" cy="371.79" r="1.9" fill="#175b74"/>
<circle cx="257.40" cy="371.79" r="1.9" fill="#175b74"/>
<circle cx="271.65" cy="366.18" r="1.9" fill="#175b74"/>
<circle cx="285.90" cy="360.80" r="1.9" fill="#175b74"/>
<circle cx="300.15" cy="357.42" r="1.9" fill="#175b74"/>
<polyline points="228.90,370.90 243.15,371.79 257.40,371.79 271.65,360.52 285.90,346.93 300.15,340.49" fill="none" stroke="#e11d4b" stroke-width="1.35" stroke-linejoin="round" stroke-linecap="round"/>
<circle cx="228.90" cy="370.90" r="1.9" fill="#d91646"/>
<circle cx="243.15" cy="371.79" r="1.9" fill="#d91646"/>
<circle cx="257.40" cy="371.79" r="1.9" fill="#d91646"/>
<circle cx="271.65" cy="360.52" r="1.9" fill="#d91646"/>
<circle cx="285.90" cy="346.93" r="1.9" fill="#d91646"/>
<circle cx="300.15" cy="340.49" r="1.9" fill="#d91646"/>
<text x="229.80" y="365.80" font-size="7.6" text-anchor="middle" fill="#231f20" font-weight="normal" font-style="normal" >n.s.</text>
<text x="243.70" y="365.80" font-size="7.6" text-anchor="middle" fill="#231f20" font-weight="normal" font-style="normal" >n.s.</text>
<line x1="257.20" y1="352.70" x2="257.20" y2="359.20" stroke="#e11d4b" stroke-width="1.25" />
<path d="M254.40,354.60 L257.20,349.70 L260.00,354.60 Z" fill="#e11d4b"/>
<text x="257.20" y="368.26" font-size="6.4" text-anchor="middle" fill="#231f20" font-weight="bold" style="stroke-width:0.35px">*</text>
<text x="269.70" y="354.46" font-size="6.4" text-anchor="middle" fill="#231f20" font-weight="bold" style="stroke-width:0.35px">*</text>
<text x="273.60" y="354.46" font-size="6.4" text-anchor="middle" fill="#231f20" font-weight="bold" style="stroke-width:0.35px">*</text>
<text x="282.00" y="337.86" font-size="6.4" text-anchor="middle" fill="#231f20" font-weight="bold" style="stroke-width:0.35px">*</text>
<text x="285.90" y="337.86" font-size="6.4" text-anchor="middle" fill="#231f20" font-weight="bold" style="stroke-width:0.35px">*</text>
<text x="289.80" y="337.86" font-size="6.4" text-anchor="middle" fill="#231f20" font-weight="bold" style="stroke-width:0.35px">*</text>
<text x="296.25" y="331.76" font-size="6.4" text-anchor="middle" fill="#231f20" font-weight="bold" style="stroke-width:0.35px">*</text>
<text x="300.15" y="331.76" font-size="6.4" text-anchor="middle" fill="#231f20" font-weight="bold" style="stroke-width:0.35px">*</text>
<text x="304.05" y="331.76" font-size="6.4" text-anchor="middle" fill="#231f20" font-weight="bold" style="stroke-width:0.35px">*</text>
<text transform="translate(233.20,405.50) rotate(-37)" font-size="7.9" text-anchor="end" fill="#231f20" textLength="4.09" lengthAdjust="spacingAndGlyphs">0</text>
<text transform="translate(247.45,405.50) rotate(-37)" font-size="7.9" text-anchor="end" fill="#231f20" textLength="18.38" lengthAdjust="spacingAndGlyphs">0.313</text>
<text transform="translate(261.70,405.50) rotate(-37)" font-size="7.9" text-anchor="end" fill="#231f20" textLength="18.38" lengthAdjust="spacingAndGlyphs">0.625</text>
<text transform="translate(275.95,405.50) rotate(-37)" font-size="7.9" text-anchor="end" fill="#231f20" textLength="14.30" lengthAdjust="spacingAndGlyphs">1.25</text>
<text transform="translate(290.20,405.50) rotate(-37)" font-size="7.9" text-anchor="end" fill="#231f20" textLength="10.21" lengthAdjust="spacingAndGlyphs">2.5</text>
<text transform="translate(304.45,405.50) rotate(-37)" font-size="7.9" text-anchor="end" fill="#231f20" textLength="4.09" lengthAdjust="spacingAndGlyphs">5</text>
<text x="264.90" y="429.20" font-size="9.4" text-anchor="middle" fill="#231f20" font-weight="normal" font-style="normal" textLength="47" lengthAdjust="spacingAndGlyphs" >OKT3 (µg/ml)</text>
<text transform="translate(191.40,348.50) rotate(-90)" x="0" y="0" font-size="9.6" text-anchor="middle" fill="#231f20" textLength="38.6" lengthAdjust="spacingAndGlyphs">CD122 MFI</text>
<line x1="377.00" y1="303.20" x2="377.00" y2="395.50" stroke="#231f20" stroke-width="1.4" />
<line x1="376.40" y1="394.90" x2="467.80" y2="394.90" stroke="#231f20" stroke-width="1.4" />
<line x1="373.50" y1="394.90" x2="377.00" y2="394.90" stroke="#231f20" stroke-width="1.2" />
<text x="371.30" y="397.80" font-size="8.2" text-anchor="end" fill="#231f20" font-weight="normal" font-style="normal" textLength="4.2" lengthAdjust="spacingAndGlyphs" >0</text>
<line x1="373.50" y1="374.15" x2="377.00" y2="374.15" stroke="#231f20" stroke-width="1.2" />
<text x="371.30" y="377.05" font-size="8.2" text-anchor="end" fill="#231f20" font-weight="normal" font-style="normal" textLength="8.39" lengthAdjust="spacingAndGlyphs" >50</text>
<line x1="373.50" y1="353.40" x2="377.00" y2="353.40" stroke="#231f20" stroke-width="1.2" />
<text x="371.30" y="356.30" font-size="8.2" text-anchor="end" fill="#231f20" font-weight="normal" font-style="normal" textLength="12.59" lengthAdjust="spacingAndGlyphs" >100</text>
<line x1="373.50" y1="332.65" x2="377.00" y2="332.65" stroke="#231f20" stroke-width="1.2" />
<text x="371.30" y="335.55" font-size="8.2" text-anchor="end" fill="#231f20" font-weight="normal" font-style="normal" textLength="12.59" lengthAdjust="spacingAndGlyphs" >150</text>
<line x1="373.50" y1="311.90" x2="377.00" y2="311.90" stroke="#231f20" stroke-width="1.2" />
<text x="371.30" y="314.80" font-size="8.2" text-anchor="end" fill="#231f20" font-weight="normal" font-style="normal" textLength="12.59" lengthAdjust="spacingAndGlyphs" >200</text>
<line x1="384.30" y1="394.90" x2="384.30" y2="397.90" stroke="#231f20" stroke-width="1.2" />
<line x1="398.55" y1="394.90" x2="398.55" y2="397.90" stroke="#231f20" stroke-width="1.2" />
<line x1="412.80" y1="394.90" x2="412.80" y2="397.90" stroke="#231f20" stroke-width="1.2" />
<line x1="427.05" y1="394.90" x2="427.05" y2="397.90" stroke="#231f20" stroke-width="1.2" />
<line x1="441.30" y1="394.90" x2="441.30" y2="397.90" stroke="#231f20" stroke-width="1.2" />
<line x1="455.55" y1="394.90" x2="455.55" y2="397.90" stroke="#231f20" stroke-width="1.2" />
<line x1="384.30" y1="389.71" x2="384.30" y2="383.69" stroke="#333333" stroke-width="1.3" />
<line x1="382.00" y1="383.69" x2="386.60" y2="383.69" stroke="#333333" stroke-width="1.4" />
<line x1="398.55" y1="385.77" x2="398.55" y2="380.38" stroke="#333333" stroke-width="1.3" />
<line x1="396.25" y1="380.38" x2="400.85" y2="380.38" stroke="#333333" stroke-width="1.4" />
<line x1="412.80" y1="377.88" x2="412.80" y2="369.58" stroke="#333333" stroke-width="1.3" />
<line x1="410.50" y1="369.58" x2="415.10" y2="369.58" stroke="#333333" stroke-width="1.4" />
<line x1="427.05" y1="357.96" x2="427.05" y2="350.91" stroke="#333333" stroke-width="1.3" />
<line x1="424.75" y1="350.91" x2="429.35" y2="350.91" stroke="#333333" stroke-width="1.4" />
<line x1="427.05" y1="366.26" x2="427.05" y2="361.70" stroke="#333333" stroke-width="1.3" />
<line x1="424.75" y1="361.70" x2="429.35" y2="361.70" stroke="#333333" stroke-width="1.4" />
<line x1="441.30" y1="345.10" x2="441.30" y2="336.38" stroke="#333333" stroke-width="1.3" />
<line x1="439.00" y1="336.38" x2="443.60" y2="336.38" stroke="#333333" stroke-width="1.4" />
<line x1="441.30" y1="363.77" x2="441.30" y2="358.38" stroke="#333333" stroke-width="1.3" />
<line x1="439.00" y1="358.38" x2="443.60" y2="358.38" stroke="#333333" stroke-width="1.4" />
<line x1="455.55" y1="327.67" x2="455.55" y2="317.29" stroke="#333333" stroke-width="1.3" />
<line x1="453.25" y1="317.29" x2="457.85" y2="317.29" stroke="#333333" stroke-width="1.4" />
<line x1="455.55" y1="350.91" x2="455.55" y2="340.53" stroke="#333333" stroke-width="1.3" />
<line x1="453.25" y1="340.53" x2="457.85" y2="340.53" stroke="#333333" stroke-width="1.4" />
<polyline points="384.30,391.58 398.55,384.94 412.80,382.03 427.05,366.26 441.30,363.77 455.55,350.91" fill="none" stroke="#1a6380" stroke-width="1.35" stroke-linejoin="round" stroke-linecap="round"/>
<circle cx="384.30" cy="391.58" r="1.9" fill="#175b74"/>
<circle cx="398.55" cy="384.94" r="1.9" fill="#175b74"/>
<circle cx="412.80" cy="382.03" r="1.9" fill="#175b74"/>
<circle cx="427.05" cy="366.26" r="1.9" fill="#175b74"/>
<circle cx="441.30" cy="363.77" r="1.9" fill="#175b74"/>
<circle cx="455.55" cy="350.91" r="1.9" fill="#175b74"/>
<polyline points="384.30,389.71 398.55,385.77 412.80,377.88 427.05,357.96 441.30,345.10 455.55,327.67" fill="none" stroke="#e11d4b" stroke-width="1.35" stroke-linejoin="round" stroke-linecap="round"/>
<circle cx="384.30" cy="389.71" r="1.9" fill="#d91646"/>
<circle cx="398.55" cy="385.77" r="1.9" fill="#d91646"/>
<circle cx="412.80" cy="377.88" r="1.9" fill="#d91646"/>
<circle cx="427.05" cy="357.96" r="1.9" fill="#d91646"/>
<circle cx="441.30" cy="345.10" r="1.9" fill="#d91646"/>
<circle cx="455.55" cy="327.67" r="1.9" fill="#d91646"/>
<text x="385.30" y="381.00" font-size="7.6" text-anchor="middle" fill="#231f20" font-weight="normal" font-style="italic" >n.s.</text>
<text x="398.60" y="375.60" font-size="7.6" text-anchor="middle" fill="#231f20" font-weight="normal" font-style="italic" >n.s.</text>
<text x="413.30" y="365.60" font-size="7.6" text-anchor="middle" fill="#231f20" font-weight="normal" font-style="italic" >n.s.</text>
<text x="427.05" y="349.56" font-size="6.4" text-anchor="middle" fill="#231f20" font-weight="bold" style="stroke-width:0.35px">*</text>
<text x="439.35" y="335.36" font-size="6.4" text-anchor="middle" fill="#231f20" font-weight="bold" style="stroke-width:0.35px">*</text>
<text x="443.25" y="335.36" font-size="6.4" text-anchor="middle" fill="#231f20" font-weight="bold" style="stroke-width:0.35px">*</text>
<text x="455.55" y="315.86" font-size="6.4" text-anchor="middle" fill="#231f20" font-weight="bold" style="stroke-width:0.35px">*</text>
<text transform="translate(388.60,405.30) rotate(-37)" font-size="7.9" text-anchor="end" fill="#231f20" textLength="4.09" lengthAdjust="spacingAndGlyphs">0</text>
<text transform="translate(402.85,405.30) rotate(-37)" font-size="7.9" text-anchor="end" fill="#231f20" textLength="18.38" lengthAdjust="spacingAndGlyphs">0.313</text>
<text transform="translate(417.10,405.30) rotate(-37)" font-size="7.9" text-anchor="end" fill="#231f20" textLength="18.38" lengthAdjust="spacingAndGlyphs">0.625</text>
<text transform="translate(431.35,405.30) rotate(-37)" font-size="7.9" text-anchor="end" fill="#231f20" textLength="14.30" lengthAdjust="spacingAndGlyphs">1.25</text>
<text transform="translate(445.60,405.30) rotate(-37)" font-size="7.9" text-anchor="end" fill="#231f20" textLength="10.21" lengthAdjust="spacingAndGlyphs">2.5</text>
<text transform="translate(459.85,405.30) rotate(-37)" font-size="7.9" text-anchor="end" fill="#231f20" textLength="4.09" lengthAdjust="spacingAndGlyphs">5</text>
<text x="420.90" y="429.20" font-size="9.4" text-anchor="middle" fill="#231f20" font-weight="normal" font-style="normal" textLength="47" lengthAdjust="spacingAndGlyphs" >OKT3 (µg/ml)</text>
<text transform="translate(351.20,349.30) rotate(-90)" x="0" y="0" font-size="9.6" text-anchor="middle" fill="#231f20" textLength="43.4" lengthAdjust="spacingAndGlyphs">CD132 ΔMFI</text>
<line x1="58.60" y1="442.70" x2="58.60" y2="534.80" stroke="#231f20" stroke-width="1.4" />
<line x1="58.00" y1="534.20" x2="148.20" y2="534.20" stroke="#231f20" stroke-width="1.4" />
<line x1="55.10" y1="534.20" x2="58.60" y2="534.20" stroke="#231f20" stroke-width="1.2" />
<text x="51.80" y="537.10" font-size="8.2" text-anchor="end" fill="#231f20" font-weight="normal" font-style="normal" textLength="4.2" lengthAdjust="spacingAndGlyphs" >0</text>
<line x1="55.10" y1="513.40" x2="58.60" y2="513.40" stroke="#231f20" stroke-width="1.2" />
<text x="51.80" y="516.30" font-size="8.2" text-anchor="end" fill="#231f20" font-weight="normal" font-style="normal" textLength="12.59" lengthAdjust="spacingAndGlyphs" >500</text>
<line x1="55.10" y1="492.60" x2="58.60" y2="492.60" stroke="#231f20" stroke-width="1.2" />
<text x="51.80" y="495.50" font-size="8.2" text-anchor="end" fill="#231f20" font-weight="normal" font-style="normal" textLength="16.78" lengthAdjust="spacingAndGlyphs" >1000</text>
<line x1="55.10" y1="471.80" x2="58.60" y2="471.80" stroke="#231f20" stroke-width="1.2" />
<text x="51.80" y="474.70" font-size="8.2" text-anchor="end" fill="#231f20" font-weight="normal" font-style="normal" textLength="16.78" lengthAdjust="spacingAndGlyphs" >1500</text>
<line x1="55.10" y1="451.00" x2="58.60" y2="451.00" stroke="#231f20" stroke-width="1.2" />
<text x="51.80" y="453.90" font-size="8.2" text-anchor="end" fill="#231f20" font-weight="normal" font-style="normal" textLength="16.78" lengthAdjust="spacingAndGlyphs" >2000</text>
<line x1="65.50" y1="534.20" x2="65.50" y2="537.20" stroke="#231f20" stroke-width="1.2" />
<line x1="79.70" y1="534.20" x2="79.70" y2="537.20" stroke="#231f20" stroke-width="1.2" />
<line x1="93.90" y1="534.20" x2="93.90" y2="537.20" stroke="#231f20" stroke-width="1.2" />
<line x1="108.10" y1="534.20" x2="108.10" y2="537.20" stroke="#231f20" stroke-width="1.2" />
<line x1="122.30" y1="534.20" x2="122.30" y2="537.20" stroke="#231f20" stroke-width="1.2" />
<line x1="136.50" y1="534.20" x2="136.50" y2="537.20" stroke="#231f20" stroke-width="1.2" />
<line x1="93.90" y1="523.72" x2="93.90" y2="517.70" stroke="#333333" stroke-width="1.3" />
<line x1="91.60" y1="517.70" x2="96.20" y2="517.70" stroke="#333333" stroke-width="1.4" />
<line x1="93.90" y1="523.72" x2="93.90" y2="519.70" stroke="#333333" stroke-width="1.3" />
<line x1="91.60" y1="519.70" x2="96.20" y2="519.70" stroke="#333333" stroke-width="1.4" />
<line x1="108.10" y1="514.69" x2="108.10" y2="508.00" stroke="#333333" stroke-width="1.3" />
<line x1="105.80" y1="508.00" x2="110.40" y2="508.00" stroke="#333333" stroke-width="1.4" />
<line x1="108.10" y1="510.40" x2="108.10" y2="504.30" stroke="#333333" stroke-width="1.3" />
<line x1="105.80" y1="504.30" x2="110.40" y2="504.30" stroke="#333333" stroke-width="1.4" />
<line x1="122.30" y1="500.00" x2="122.30" y2="482.30" stroke="#333333" stroke-width="1.3" />
<line x1="120.00" y1="482.30" x2="124.60" y2="482.30" stroke="#333333" stroke-width="1.4" />
<line x1="122.30" y1="513.82" x2="122.30" y2="505.10" stroke="#333333" stroke-width="1.3" />
<line x1="120.00" y1="505.10" x2="124.60" y2="505.10" stroke="#333333" stroke-width="1.4" />
<line x1="136.50" y1="491.02" x2="136.50" y2="464.50" stroke="#333333" stroke-width="1.3" />
<line x1="134.20" y1="464.50" x2="138.80" y2="464.50" stroke="#333333" stroke-width="1.4" />
<line x1="136.50" y1="509.82" x2="136.50" y2="499.50" stroke="#333333" stroke-width="1.3" />
<line x1="134.20" y1="499.50" x2="138.80" y2="499.50" stroke="#333333" stroke-width="1.4" />
<polyline points="65.50,528.50 79.70,528.50 93.90,523.72 108.10,514.69 122.30,513.82 136.50,509.82" fill="none" stroke="#1a6380" stroke-width="1.35" stroke-linejoin="round" stroke-linecap="round"/>
<circle cx="65.50" cy="528.50" r="1.9" fill="#175b74"/>
<circle cx="79.70" cy="528.50" r="1.9" fill="#175b74"/>
<circle cx="93.90" cy="523.72" r="1.9" fill="#175b74"/>
<circle cx="108.10" cy="514.69" r="1.9" fill="#175b74"/>
<circle cx="122.30" cy="513.82" r="1.9" fill="#175b74"/>
<circle cx="136.50" cy="509.82" r="1.9" fill="#175b74"/>
<polyline points="65.50,528.50 79.70,528.50 93.90,523.72 108.10,510.40 122.30,500.00 136.50,491.02" fill="none" stroke="#e11d4b" stroke-width="1.35" stroke-linejoin="round" stroke-linecap="round"/>
<circle cx="65.50" cy="528.50" r="1.9" fill="#d91646"/>
<circle cx="79.70" cy="528.50" r="1.9" fill="#d91646"/>
<circle cx="93.90" cy="523.72" r="1.9" fill="#d91646"/>
<circle cx="108.10" cy="510.40" r="1.9" fill="#d91646"/>
<circle cx="122.30" cy="500.00" r="1.9" fill="#d91646"/>
<circle cx="136.50" cy="491.02" r="1.9" fill="#d91646"/>
<line x1="65.50" y1="511.00" x2="65.50" y2="516.80" stroke="#e11d4b" stroke-width="1.25" />
<path d="M62.70,512.90 L65.50,508.00 L68.30,512.90 Z" fill="#e11d4b"/>
<text x="65.50" y="525.96" font-size="6.4" text-anchor="middle" fill="#231f20" font-weight="bold" style="stroke-width:0.35px">*</text>
<text x="79.70" y="523.80" font-size="7.6" text-anchor="middle" fill="#231f20" font-weight="normal" font-style="italic" >n.s.</text>
<text x="94.00" y="514.00" font-size="7.6" text-anchor="middle" fill="#231f20" font-weight="normal" font-style="italic" >n.s.</text>
<text x="108.20" y="500.80" font-size="7.6" text-anchor="middle" fill="#231f20" font-weight="normal" font-style="italic" >n.s.</text>
<text x="122.30" y="481.26" font-size="6.4" text-anchor="middle" fill="#231f20" font-weight="bold" style="stroke-width:0.35px">*</text>
<text x="136.50" y="463.26" font-size="6.4" text-anchor="middle" fill="#231f20" font-weight="bold" style="stroke-width:0.35px">*</text>
<text transform="translate(69.80,544.60) rotate(-37)" font-size="7.9" text-anchor="end" fill="#231f20" textLength="4.09" lengthAdjust="spacingAndGlyphs">0</text>
<text transform="translate(84.00,544.60) rotate(-37)" font-size="7.9" text-anchor="end" fill="#231f20" textLength="18.38" lengthAdjust="spacingAndGlyphs">0.313</text>
<text transform="translate(98.20,544.60) rotate(-37)" font-size="7.9" text-anchor="end" fill="#231f20" textLength="18.38" lengthAdjust="spacingAndGlyphs">0.625</text>
<text transform="translate(112.40,544.60) rotate(-37)" font-size="7.9" text-anchor="end" fill="#231f20" textLength="14.30" lengthAdjust="spacingAndGlyphs">1.25</text>
<text transform="translate(126.60,544.60) rotate(-37)" font-size="7.9" text-anchor="end" fill="#231f20" textLength="10.21" lengthAdjust="spacingAndGlyphs">2.5</text>
<text transform="translate(140.80,544.60) rotate(-37)" font-size="7.9" text-anchor="end" fill="#231f20" textLength="4.09" lengthAdjust="spacingAndGlyphs">5</text>
<text x="102.20" y="568.60" font-size="9.4" text-anchor="middle" fill="#231f20" font-weight="normal" font-style="normal" textLength="47" lengthAdjust="spacingAndGlyphs" >OKT3 (µg/ml)</text>
<text transform="translate(28.40,488.40) rotate(-90)" x="0" y="0" font-size="9.6" text-anchor="middle" fill="#231f20" textLength="64.4" lengthAdjust="spacingAndGlyphs">STAT3 pY705 ΔMFI</text>
<line x1="221.40" y1="442.70" x2="221.40" y2="534.60" stroke="#231f20" stroke-width="1.4" />
<line x1="220.80" y1="534.00" x2="311.90" y2="534.00" stroke="#231f20" stroke-width="1.4" />
<line x1="217.90" y1="534.00" x2="221.40" y2="534.00" stroke="#231f20" stroke-width="1.2" />
<text x="215.90" y="536.90" font-size="8.2" text-anchor="end" fill="#231f20" font-weight="normal" font-style="normal" textLength="4.2" lengthAdjust="spacingAndGlyphs" >0</text>
<line x1="217.90" y1="506.50" x2="221.40" y2="506.50" stroke="#231f20" stroke-width="1.2" />
<text x="215.90" y="509.40" font-size="8.2" text-anchor="end" fill="#231f20" font-weight="normal" font-style="normal" textLength="8.39" lengthAdjust="spacingAndGlyphs" >50</text>
<line x1="217.90" y1="479.00" x2="221.40" y2="479.00" stroke="#231f20" stroke-width="1.2" />
<text x="215.90" y="481.90" font-size="8.2" text-anchor="end" fill="#231f20" font-weight="normal" font-style="normal" textLength="12.59" lengthAdjust="spacingAndGlyphs" >100</text>
<line x1="217.90" y1="451.50" x2="221.40" y2="451.50" stroke="#231f20" stroke-width="1.2" />
<text x="215.90" y="454.40" font-size="8.2" text-anchor="end" fill="#231f20" font-weight="normal" font-style="normal" textLength="12.59" lengthAdjust="spacingAndGlyphs" >150</text>
<line x1="228.70" y1="534.00" x2="228.70" y2="537.00" stroke="#231f20" stroke-width="1.2" />
<line x1="243.00" y1="534.00" x2="243.00" y2="537.00" stroke="#231f20" stroke-width="1.2" />
<line x1="257.30" y1="534.00" x2="257.30" y2="537.00" stroke="#231f20" stroke-width="1.2" />
<line x1="271.60" y1="534.00" x2="271.60" y2="537.00" stroke="#231f20" stroke-width="1.2" />
<line x1="285.90" y1="534.00" x2="285.90" y2="537.00" stroke="#231f20" stroke-width="1.2" />
<line x1="300.20" y1="534.00" x2="300.20" y2="537.00" stroke="#231f20" stroke-width="1.2" />
<line x1="257.30" y1="516.40" x2="257.30" y2="503.70" stroke="#333333" stroke-width="1.3" />
<line x1="255.00" y1="503.70" x2="259.60" y2="503.70" stroke="#333333" stroke-width="1.4" />
<line x1="257.30" y1="514.75" x2="257.30" y2="509.40" stroke="#333333" stroke-width="1.3" />
<line x1="255.00" y1="509.40" x2="259.60" y2="509.40" stroke="#333333" stroke-width="1.4" />
<line x1="271.60" y1="508.70" x2="271.60" y2="495.60" stroke="#333333" stroke-width="1.3" />
<line x1="269.30" y1="495.60" x2="273.90" y2="495.60" stroke="#333333" stroke-width="1.4" />
<line x1="271.60" y1="505.40" x2="271.60" y2="501.20" stroke="#333333" stroke-width="1.3" />
<line x1="269.30" y1="501.20" x2="273.90" y2="501.20" stroke="#333333" stroke-width="1.4" />
<line x1="285.90" y1="507.60" x2="285.90" y2="488.70" stroke="#333333" stroke-width="1.3" />
<line x1="283.60" y1="488.70" x2="288.20" y2="488.70" stroke="#333333" stroke-width="1.4" />
<line x1="285.90" y1="503.20" x2="285.90" y2="497.50" stroke="#333333" stroke-width="1.3" />
<line x1="283.60" y1="497.50" x2="288.20" y2="497.50" stroke="#333333" stroke-width="1.4" />
<line x1="300.20" y1="507.05" x2="300.20" y2="479.00" stroke="#333333" stroke-width="1.3" />
<line x1="297.90" y1="479.00" x2="302.50" y2="479.00" stroke="#333333" stroke-width="1.4" />
<line x1="300.20" y1="499.35" x2="300.20" y2="495.00" stroke="#333333" stroke-width="1.3" />
<line x1="297.90" y1="495.00" x2="302.50" y2="495.00" stroke="#333333" stroke-width="1.4" />
<polyline points="228.70,525.20 243.00,525.20 257.30,514.75 271.60,505.40 285.90,507.60 300.20,507.05" fill="none" stroke="#1a6380" stroke-width="1.35" stroke-linejoin="round" stroke-linecap="round"/>
<circle cx="228.70" cy="525.20" r="1.9" fill="#175b74"/>
<circle cx="243.00" cy="525.20" r="1.9" fill="#175b74"/>
<circle cx="257.30" cy="514.75" r="1.9" fill="#175b74"/>
<circle cx="271.60" cy="505.40" r="1.9" fill="#175b74"/>
<circle cx="285.90" cy="507.60" r="1.9" fill="#175b74"/>
<circle cx="300.20" cy="507.05" r="1.9" fill="#175b74"/>
<polyline points="228.70,525.20 243.00,525.20 257.30,516.40 271.60,508.70 285.90,503.20 300.20,499.35" fill="none" stroke="#e11d4b" stroke-width="1.35" stroke-linejoin="round" stroke-linecap="round"/>
<circle cx="228.70" cy="525.20" r="1.9" fill="#d91646"/>
<circle cx="243.00" cy="525.20" r="1.9" fill="#d91646"/>
<circle cx="257.30" cy="516.40" r="1.9" fill="#d91646"/>
<circle cx="271.60" cy="508.70" r="1.9" fill="#d91646"/>
<circle cx="285.90" cy="503.20" r="1.9" fill="#d91646"/>
<circle cx="300.20" cy="499.35" r="1.9" fill="#d91646"/>
<text x="229.80" y="519.70" font-size="7.6" text-anchor="middle" fill="#231f20" font-weight="normal" font-style="italic" >n.s.</text>
<text x="244.00" y="515.80" font-size="7.6" text-anchor="middle" fill="#231f20" font-weight="normal" font-style="italic" >n.s.</text>
<text x="257.30" y="500.50" font-size="7.6" text-anchor="middle" fill="#231f20" font-weight="normal" font-style="italic" >n.s.</text>
<text x="271.30" y="493.20" font-size="7.6" text-anchor="middle" fill="#231f20" font-weight="normal" font-style="italic" >n.s.</text>
<text x="285.70" y="485.50" font-size="7.6" text-anchor="middle" fill="#231f20" font-weight="normal" font-style="italic" >n.s.</text>
<text x="300.10" y="475.80" font-size="7.6" text-anchor="middle" fill="#231f20" font-weight="normal" font-style="italic" >n.s.</text>
<text transform="translate(233.00,544.40) rotate(-37)" font-size="7.9" text-anchor="end" fill="#231f20" textLength="4.09" lengthAdjust="spacingAndGlyphs">0</text>
<text transform="translate(247.30,544.40) rotate(-37)" font-size="7.9" text-anchor="end" fill="#231f20" textLength="18.38" lengthAdjust="spacingAndGlyphs">0.313</text>
<text transform="translate(261.60,544.40) rotate(-37)" font-size="7.9" text-anchor="end" fill="#231f20" textLength="18.38" lengthAdjust="spacingAndGlyphs">0.625</text>
<text transform="translate(275.90,544.40) rotate(-37)" font-size="7.9" text-anchor="end" fill="#231f20" textLength="14.30" lengthAdjust="spacingAndGlyphs">1.25</text>
<text transform="translate(290.20,544.40) rotate(-37)" font-size="7.9" text-anchor="end" fill="#231f20" textLength="10.21" lengthAdjust="spacingAndGlyphs">2.5</text>
<text transform="translate(304.50,544.40) rotate(-37)" font-size="7.9" text-anchor="end" fill="#231f20" textLength="4.09" lengthAdjust="spacingAndGlyphs">5</text>
<text x="265.00" y="568.60" font-size="9.4" text-anchor="middle" fill="#231f20" font-weight="normal" font-style="normal" textLength="47" lengthAdjust="spacingAndGlyphs" >OKT3 (µg/ml)</text>
<text transform="translate(197.10,488.80) rotate(-90)" x="0" y="0" font-size="9.6" text-anchor="middle" fill="#231f20" textLength="63.6" lengthAdjust="spacingAndGlyphs">STAT5 pY694 ΔMFI</text>
</svg>
</body></html>
